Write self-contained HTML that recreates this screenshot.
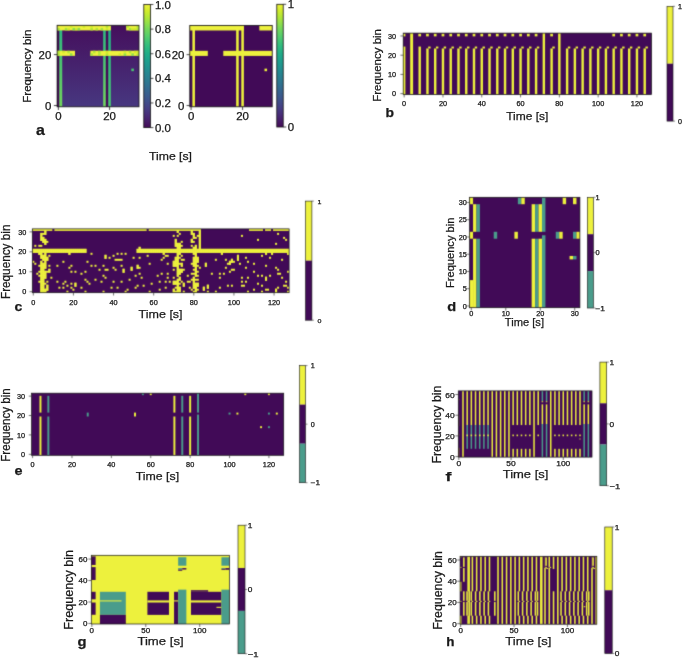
<!DOCTYPE html>
<html><head><meta charset="utf-8"><style>
html,body{margin:0;padding:0;background:#fff;}
svg{display:block;will-change:transform;}
text{font-family:"Liberation Sans",sans-serif;fill:#1a1a1a;stroke:#1a1a1a;stroke-width:0.25px;}
</style></head><body>
<svg width="685" height="658" viewBox="0 0 685 658">
<defs><filter id="bl" x="0" y="0" width="685" height="658" filterUnits="userSpaceOnUse" color-interpolation-filters="sRGB"><feConvolveMatrix order="3" kernelMatrix="0.0192 0.1001 0.0192 0.1001 0.5228 0.1001 0.0192 0.1001 0.0192" divisor="1" edgeMode="duplicate" preserveAlpha="true"/></filter></defs>
<rect width="685" height="658" fill="#fff"/>
<g filter="url(#bl)">
<rect width="685" height="658" fill="#fff"/>
<defs><linearGradient id="gr1" x1="0" y1="0" x2="0" y2="1"><stop offset="0" stop-color="#450f5c"/><stop offset="1" stop-color="#473780"/></linearGradient></defs>
<rect x="57.1" y="25.3" width="81.9" height="81.5" fill="url(#gr1)"/>
<rect x="57.1" y="25.3" width="2.56" height="81.5" fill="#440a57"/>
<rect x="105.73" y="25.3" width="2.56" height="81.5" fill="#440a57"/>
<defs><linearGradient id="gr2" x1="0" y1="0" x2="0" y2="1"><stop offset="0" stop-color="#29b783"/><stop offset="1" stop-color="#73d75b"/></linearGradient></defs>
<rect x="59.26" y="25.3" width="2.96" height="81.5" fill="url(#gr2)"/>
<defs><linearGradient id="gr3" x1="0" y1="0" x2="0" y2="1"><stop offset="0" stop-color="#29b783"/><stop offset="1" stop-color="#73d75b"/></linearGradient></defs>
<rect x="103.17" y="25.3" width="2.56" height="81.5" fill="url(#gr3)"/>
<defs><linearGradient id="gr4" x1="0" y1="0" x2="0" y2="1"><stop offset="0" stop-color="#20ad88"/><stop offset="1" stop-color="#4ac871"/></linearGradient></defs>
<rect x="108.29" y="25.3" width="2.56" height="81.5" fill="url(#gr4)"/>
<rect x="57.1" y="25.3" width="53.75" height="5.09" fill="#edf13d"/>
<rect x="57.1" y="27.85" width="2.56" height="2.55" fill="#a5e53e"/>
<rect x="64.78" y="27.85" width="2.56" height="2.55" fill="#a5e53e"/>
<rect x="67.34" y="27.85" width="2.56" height="2.55" fill="#d2ec2c"/>
<rect x="69.9" y="25.3" width="2.56" height="2.55" fill="#d2ec2c"/>
<rect x="72.46" y="27.85" width="2.56" height="2.55" fill="#8cde4c"/>
<rect x="75.02" y="27.85" width="2.56" height="2.55" fill="#d2ec2c"/>
<rect x="77.58" y="27.85" width="2.56" height="2.55" fill="#8cde4c"/>
<rect x="82.69" y="25.3" width="2.56" height="2.55" fill="#d2ec2c"/>
<rect x="90.37" y="27.85" width="2.56" height="2.55" fill="#b3e736"/>
<rect x="90.37" y="25.3" width="2.56" height="2.55" fill="#d2ec2c"/>
<rect x="95.49" y="27.85" width="2.56" height="2.55" fill="#b3e736"/>
<rect x="100.61" y="27.85" width="2.56" height="2.55" fill="#a5e53e"/>
<rect x="105.73" y="27.85" width="2.56" height="2.55" fill="#d2ec2c"/>
<rect x="105.73" y="25.3" width="2.56" height="2.55" fill="#b3e736"/>
<rect x="126.2" y="25.3" width="12.8" height="5.09" fill="#edf13d"/>
<rect x="126.2" y="25.3" width="2.56" height="2.55" fill="#b3e736"/>
<rect x="128.76" y="27.85" width="2.56" height="2.55" fill="#a5e53e"/>
<rect x="131.32" y="27.85" width="2.56" height="2.55" fill="#d2ec2c"/>
<rect x="133.88" y="27.85" width="2.56" height="2.55" fill="#d2ec2c"/>
<rect x="136.44" y="27.85" width="2.56" height="2.55" fill="#b3e736"/>
<rect x="136.44" y="25.3" width="2.56" height="2.55" fill="#b3e736"/>
<rect x="57.1" y="50.77" width="17.92" height="5.09" fill="#edf13d"/>
<rect x="57.1" y="53.32" width="2.56" height="2.55" fill="#a5e53e"/>
<rect x="57.1" y="50.77" width="2.56" height="2.55" fill="#b3e736"/>
<rect x="62.22" y="50.77" width="2.56" height="2.55" fill="#d2ec2c"/>
<rect x="67.34" y="50.77" width="2.56" height="2.55" fill="#b3e736"/>
<rect x="69.9" y="53.32" width="2.56" height="2.55" fill="#8cde4c"/>
<rect x="90.37" y="50.77" width="48.63" height="5.09" fill="#edf13d"/>
<rect x="90.37" y="53.32" width="2.56" height="2.55" fill="#a5e53e"/>
<rect x="92.93" y="50.77" width="2.56" height="2.55" fill="#b3e736"/>
<rect x="98.05" y="53.32" width="2.56" height="2.55" fill="#b3e736"/>
<rect x="98.05" y="50.77" width="2.56" height="2.55" fill="#b3e736"/>
<rect x="105.73" y="53.32" width="2.56" height="2.55" fill="#b3e736"/>
<rect x="105.73" y="50.77" width="2.56" height="2.55" fill="#d2ec2c"/>
<rect x="118.53" y="53.32" width="2.56" height="2.55" fill="#d2ec2c"/>
<rect x="123.64" y="53.32" width="2.56" height="2.55" fill="#8cde4c"/>
<rect x="123.64" y="50.77" width="2.56" height="2.55" fill="#d2ec2c"/>
<rect x="128.76" y="50.77" width="2.56" height="2.55" fill="#b3e736"/>
<rect x="131.32" y="53.32" width="2.56" height="2.55" fill="#8cde4c"/>
<rect x="133.88" y="50.77" width="2.56" height="2.55" fill="#d2ec2c"/>
<rect x="136.44" y="53.32" width="2.56" height="2.55" fill="#b3e736"/>
<rect x="136.44" y="50.77" width="2.56" height="2.55" fill="#d2ec2c"/>
<rect x="131.32" y="68.6" width="2.56" height="2.55" fill="#4ac871"/>
<rect x="57.1" y="25.3" width="81.9" height="81.5" fill="none" stroke="#111" stroke-width="0.8"/>
<line x1="58.38" y1="106.8" x2="58.38" y2="110" stroke="#1a1a1a" stroke-width="0.8"/>
<line x1="109.57" y1="106.8" x2="109.57" y2="110" stroke="#1a1a1a" stroke-width="0.8"/>
<line x1="53.9" y1="105.53" x2="57.1" y2="105.53" stroke="#1a1a1a" stroke-width="0.8"/>
<line x1="53.9" y1="54.59" x2="57.1" y2="54.59" stroke="#1a1a1a" stroke-width="0.8"/>
<defs><linearGradient id="g59" x1="0" y1="0" x2="0" y2="1"><stop offset="0" stop-color="#edf23d"/><stop offset="0.05" stop-color="#d2ec2c"/><stop offset="0.1" stop-color="#b3e736"/><stop offset="0.15" stop-color="#93e049"/><stop offset="0.2" stop-color="#73d75b"/><stop offset="0.25" stop-color="#59cf6a"/><stop offset="0.3" stop-color="#40c477"/><stop offset="0.35" stop-color="#2cb981"/><stop offset="0.4" stop-color="#20ad88"/><stop offset="0.45" stop-color="#1da18d"/><stop offset="0.5" stop-color="#20968f"/><stop offset="0.55" stop-color="#248991"/><stop offset="0.6" stop-color="#2a7e90"/><stop offset="0.65" stop-color="#2f7290"/><stop offset="0.7" stop-color="#35658f"/><stop offset="0.75" stop-color="#3b598d"/><stop offset="0.8" stop-color="#414b89"/><stop offset="0.85" stop-color="#463c83"/><stop offset="0.9" stop-color="#482c78"/><stop offset="0.95" stop-color="#471c68"/><stop offset="1" stop-color="#440a57"/></linearGradient></defs>
<rect x="143.8" y="4.5" width="6.6" height="123.1" fill="url(#g59)"/>
<rect x="143.8" y="4.5" width="6.6" height="123.1" fill="none" stroke="#111" stroke-width="0.8"/>
<line x1="150.4" y1="4.5" x2="153.4" y2="4.5" stroke="#1a1a1a" stroke-width="0.8"/>
<line x1="150.4" y1="29.12" x2="153.4" y2="29.12" stroke="#1a1a1a" stroke-width="0.8"/>
<line x1="150.4" y1="53.74" x2="153.4" y2="53.74" stroke="#1a1a1a" stroke-width="0.8"/>
<line x1="150.4" y1="78.36" x2="153.4" y2="78.36" stroke="#1a1a1a" stroke-width="0.8"/>
<line x1="150.4" y1="102.98" x2="153.4" y2="102.98" stroke="#1a1a1a" stroke-width="0.8"/>
<line x1="150.4" y1="127.6" x2="153.4" y2="127.6" stroke="#1a1a1a" stroke-width="0.8"/>
<rect x="189.8" y="25.4" width="82.4" height="81.4" fill="#410a57"/>
<rect x="189.8" y="25.4" width="54.07" height="5.09" fill="#edf13d"/>
<rect x="259.32" y="25.4" width="12.87" height="5.09" fill="#edf13d"/>
<rect x="189.8" y="50.84" width="18.02" height="5.09" fill="#edf13d"/>
<rect x="223.28" y="50.84" width="48.92" height="5.09" fill="#edf13d"/>
<rect x="192.38" y="25.4" width="2.57" height="81.4" fill="#edf13d"/>
<rect x="236.15" y="25.4" width="2.57" height="81.4" fill="#edf13d"/>
<rect x="241.3" y="25.4" width="2.57" height="81.4" fill="#edf13d"/>
<rect x="264.48" y="68.64" width="2.57" height="2.54" fill="#edf13d"/>
<rect x="189.8" y="25.4" width="82.4" height="81.4" fill="none" stroke="#111" stroke-width="0.8"/>
<line x1="191.09" y1="106.8" x2="191.09" y2="110" stroke="#1a1a1a" stroke-width="0.8"/>
<line x1="242.59" y1="106.8" x2="242.59" y2="110" stroke="#1a1a1a" stroke-width="0.8"/>
<line x1="186.6" y1="105.53" x2="189.8" y2="105.53" stroke="#1a1a1a" stroke-width="0.8"/>
<line x1="186.6" y1="54.65" x2="189.8" y2="54.65" stroke="#1a1a1a" stroke-width="0.8"/>
<defs><linearGradient id="g82" x1="0" y1="0" x2="0" y2="1"><stop offset="0" stop-color="#edf23d"/><stop offset="0.05" stop-color="#d2ec2c"/><stop offset="0.1" stop-color="#b3e736"/><stop offset="0.15" stop-color="#93e049"/><stop offset="0.2" stop-color="#73d75b"/><stop offset="0.25" stop-color="#59cf6a"/><stop offset="0.3" stop-color="#40c477"/><stop offset="0.35" stop-color="#2cb981"/><stop offset="0.4" stop-color="#20ad88"/><stop offset="0.45" stop-color="#1da18d"/><stop offset="0.5" stop-color="#20968f"/><stop offset="0.55" stop-color="#248991"/><stop offset="0.6" stop-color="#2a7e90"/><stop offset="0.65" stop-color="#2f7290"/><stop offset="0.7" stop-color="#35658f"/><stop offset="0.75" stop-color="#3b598d"/><stop offset="0.8" stop-color="#414b89"/><stop offset="0.85" stop-color="#463c83"/><stop offset="0.9" stop-color="#482c78"/><stop offset="0.95" stop-color="#471c68"/><stop offset="1" stop-color="#440a57"/></linearGradient></defs>
<rect x="276.8" y="4.3" width="6.4" height="122.7" fill="url(#g82)"/>
<rect x="276.8" y="4.3" width="6.4" height="122.7" fill="none" stroke="#111" stroke-width="0.8"/>
<line x1="283.2" y1="4.3" x2="286.2" y2="4.3" stroke="#1a1a1a" stroke-width="0.8"/>
<line x1="283.2" y1="127" x2="286.2" y2="127" stroke="#1a1a1a" stroke-width="0.8"/>
<rect x="403.2" y="33.1" width="248.3" height="61.5" fill="#410a57"/>
<rect x="402.97" y="46.55" width="2.41" height="48.05" fill="#edf13d"/>
<rect x="403.2" y="33.68" width="2.17" height="2.69" fill="#edf13d"/>
<rect x="410.18" y="33.1" width="2.91" height="61.5" fill="#edf13d"/>
<rect x="418.49" y="46.55" width="2.41" height="48.05" fill="#edf13d"/>
<rect x="418.33" y="33.68" width="2.72" height="2.69" fill="#edf13d"/>
<rect x="426.25" y="48.48" width="2.41" height="46.12" fill="#edf13d"/>
<rect x="428.19" y="46.55" width="2.41" height="1.92" fill="#edf13d"/>
<rect x="426.09" y="33.68" width="2.72" height="2.69" fill="#edf13d"/>
<rect x="434" y="48.48" width="2.41" height="46.12" fill="#edf13d"/>
<rect x="435.94" y="46.55" width="2.41" height="1.92" fill="#edf13d"/>
<rect x="433.85" y="33.68" width="2.72" height="2.69" fill="#edf13d"/>
<rect x="441.76" y="48.48" width="2.41" height="46.12" fill="#edf13d"/>
<rect x="443.7" y="46.55" width="2.41" height="1.92" fill="#edf13d"/>
<rect x="441.61" y="33.68" width="2.72" height="2.69" fill="#edf13d"/>
<rect x="449.52" y="48.48" width="2.41" height="46.12" fill="#edf13d"/>
<rect x="451.46" y="46.55" width="2.41" height="1.92" fill="#edf13d"/>
<rect x="449.37" y="33.68" width="2.72" height="2.69" fill="#edf13d"/>
<rect x="457.28" y="48.48" width="2.41" height="46.12" fill="#edf13d"/>
<rect x="459.22" y="46.55" width="2.41" height="1.92" fill="#edf13d"/>
<rect x="457.13" y="33.68" width="2.72" height="2.69" fill="#edf13d"/>
<rect x="465.04" y="48.48" width="2.41" height="46.12" fill="#edf13d"/>
<rect x="466.98" y="46.55" width="2.41" height="1.92" fill="#edf13d"/>
<rect x="464.89" y="33.68" width="2.72" height="2.69" fill="#edf13d"/>
<rect x="472.8" y="48.48" width="2.41" height="46.12" fill="#edf13d"/>
<rect x="474.74" y="46.55" width="2.41" height="1.92" fill="#edf13d"/>
<rect x="472.65" y="33.68" width="2.72" height="2.69" fill="#edf13d"/>
<rect x="480.56" y="48.48" width="2.41" height="46.12" fill="#edf13d"/>
<rect x="482.5" y="46.55" width="2.41" height="1.92" fill="#edf13d"/>
<rect x="480.41" y="33.68" width="2.72" height="2.69" fill="#edf13d"/>
<rect x="488.32" y="48.48" width="2.41" height="46.12" fill="#edf13d"/>
<rect x="490.26" y="46.55" width="2.41" height="1.92" fill="#edf13d"/>
<rect x="488.17" y="33.68" width="2.72" height="2.69" fill="#edf13d"/>
<rect x="496.08" y="48.48" width="2.41" height="46.12" fill="#edf13d"/>
<rect x="498.02" y="46.55" width="2.41" height="1.92" fill="#edf13d"/>
<rect x="495.92" y="33.68" width="2.72" height="2.69" fill="#edf13d"/>
<rect x="503.84" y="48.48" width="2.41" height="46.12" fill="#edf13d"/>
<rect x="505.78" y="46.55" width="2.41" height="1.92" fill="#edf13d"/>
<rect x="503.68" y="33.68" width="2.72" height="2.69" fill="#edf13d"/>
<rect x="511.6" y="48.48" width="2.41" height="46.12" fill="#edf13d"/>
<rect x="513.54" y="46.55" width="2.41" height="1.92" fill="#edf13d"/>
<rect x="511.44" y="33.68" width="2.72" height="2.69" fill="#edf13d"/>
<rect x="519.36" y="48.48" width="2.41" height="46.12" fill="#edf13d"/>
<rect x="521.3" y="46.55" width="2.41" height="1.92" fill="#edf13d"/>
<rect x="519.2" y="33.68" width="2.72" height="2.69" fill="#edf13d"/>
<rect x="527.12" y="48.48" width="2.41" height="46.12" fill="#edf13d"/>
<rect x="529.06" y="46.55" width="2.41" height="1.92" fill="#edf13d"/>
<rect x="526.96" y="33.68" width="2.72" height="2.69" fill="#edf13d"/>
<rect x="534.88" y="48.48" width="2.41" height="46.12" fill="#edf13d"/>
<rect x="536.82" y="46.55" width="2.41" height="1.92" fill="#edf13d"/>
<rect x="534.72" y="33.68" width="2.72" height="2.69" fill="#edf13d"/>
<rect x="542.64" y="33.1" width="2.41" height="61.5" fill="#edf13d"/>
<rect x="550.4" y="48.48" width="2.41" height="46.12" fill="#edf13d"/>
<rect x="552.34" y="46.55" width="2.41" height="1.92" fill="#edf13d"/>
<rect x="550.24" y="33.68" width="2.72" height="2.69" fill="#edf13d"/>
<rect x="558.15" y="33.1" width="2.41" height="61.5" fill="#edf13d"/>
<rect x="565.91" y="48.48" width="2.41" height="46.12" fill="#edf13d"/>
<rect x="567.85" y="46.55" width="2.41" height="1.92" fill="#edf13d"/>
<rect x="573.67" y="48.48" width="2.41" height="46.12" fill="#edf13d"/>
<rect x="575.61" y="46.55" width="2.41" height="1.92" fill="#edf13d"/>
<rect x="581.43" y="48.48" width="2.41" height="46.12" fill="#edf13d"/>
<rect x="583.37" y="46.55" width="2.41" height="1.92" fill="#edf13d"/>
<rect x="589.19" y="48.48" width="2.41" height="46.12" fill="#edf13d"/>
<rect x="591.13" y="46.55" width="2.41" height="1.92" fill="#edf13d"/>
<rect x="596.95" y="48.48" width="2.41" height="46.12" fill="#edf13d"/>
<rect x="598.89" y="46.55" width="2.41" height="1.92" fill="#edf13d"/>
<rect x="604.71" y="48.48" width="2.41" height="46.12" fill="#edf13d"/>
<rect x="606.65" y="46.55" width="2.41" height="1.92" fill="#edf13d"/>
<rect x="612.47" y="48.48" width="2.41" height="46.12" fill="#edf13d"/>
<rect x="614.41" y="46.55" width="2.41" height="1.92" fill="#edf13d"/>
<rect x="612.32" y="33.68" width="2.72" height="2.69" fill="#edf13d"/>
<rect x="620.23" y="48.48" width="2.41" height="46.12" fill="#edf13d"/>
<rect x="622.17" y="46.55" width="2.41" height="1.92" fill="#edf13d"/>
<rect x="620.07" y="33.68" width="2.72" height="2.69" fill="#edf13d"/>
<rect x="627.99" y="48.48" width="2.41" height="46.12" fill="#edf13d"/>
<rect x="629.93" y="46.55" width="2.41" height="1.92" fill="#edf13d"/>
<rect x="627.83" y="33.68" width="2.72" height="2.69" fill="#edf13d"/>
<rect x="635.75" y="48.48" width="2.41" height="46.12" fill="#edf13d"/>
<rect x="637.69" y="46.55" width="2.41" height="1.92" fill="#edf13d"/>
<rect x="635.59" y="33.68" width="2.72" height="2.69" fill="#edf13d"/>
<rect x="643.51" y="48.48" width="2.41" height="46.12" fill="#edf13d"/>
<rect x="645.45" y="46.55" width="2.41" height="1.92" fill="#edf13d"/>
<rect x="643.35" y="33.68" width="2.72" height="2.69" fill="#edf13d"/>
<rect x="403.2" y="33.1" width="248.3" height="61.5" fill="none" stroke="#111" stroke-width="0.7"/>
<line x1="404.17" y1="94.6" x2="404.17" y2="97.4" stroke="#333" stroke-width="0.7"/>
<line x1="442.97" y1="94.6" x2="442.97" y2="97.4" stroke="#333" stroke-width="0.7"/>
<line x1="481.76" y1="94.6" x2="481.76" y2="97.4" stroke="#333" stroke-width="0.7"/>
<line x1="520.56" y1="94.6" x2="520.56" y2="97.4" stroke="#333" stroke-width="0.7"/>
<line x1="559.36" y1="94.6" x2="559.36" y2="97.4" stroke="#333" stroke-width="0.7"/>
<line x1="598.15" y1="94.6" x2="598.15" y2="97.4" stroke="#333" stroke-width="0.7"/>
<line x1="636.95" y1="94.6" x2="636.95" y2="97.4" stroke="#333" stroke-width="0.7"/>
<line x1="400.4" y1="93.64" x2="403.2" y2="93.64" stroke="#333" stroke-width="0.7"/>
<line x1="400.4" y1="74.42" x2="403.2" y2="74.42" stroke="#333" stroke-width="0.7"/>
<line x1="400.4" y1="55.2" x2="403.2" y2="55.2" stroke="#333" stroke-width="0.7"/>
<line x1="400.4" y1="35.98" x2="403.2" y2="35.98" stroke="#333" stroke-width="0.7"/>
<rect x="667" y="6.3" width="6" height="57.4" fill="#edf13d"/>
<rect x="667" y="63.7" width="6" height="57.4" fill="#410a57"/>
<rect x="667" y="6.3" width="6" height="114.8" fill="none" stroke="#111" stroke-width="0.6"/>
<line x1="673" y1="6.3" x2="675" y2="6.3" stroke="#333" stroke-width="0.6"/>
<line x1="673" y1="121.1" x2="675" y2="121.1" stroke="#333" stroke-width="0.6"/>
<rect x="32.3" y="228.9" width="256.8" height="63.8" fill="#410a57"/>
<rect x="40.32" y="290.71" width="6.02" height="1.99" fill="#edf13d"/>
<rect x="66.41" y="290.71" width="2.01" height="1.99" fill="#edf13d"/>
<rect x="84.46" y="290.71" width="2.01" height="1.99" fill="#edf13d"/>
<rect x="102.52" y="290.71" width="2.01" height="1.99" fill="#edf13d"/>
<rect x="124.59" y="290.71" width="2.01" height="1.99" fill="#edf13d"/>
<rect x="148.66" y="290.71" width="2.01" height="1.99" fill="#edf13d"/>
<rect x="172.74" y="290.71" width="8.03" height="1.99" fill="#edf13d"/>
<rect x="182.77" y="290.71" width="2.01" height="1.99" fill="#edf13d"/>
<rect x="192.8" y="290.71" width="4.01" height="1.99" fill="#edf13d"/>
<rect x="206.84" y="290.71" width="2.01" height="1.99" fill="#edf13d"/>
<rect x="214.87" y="290.71" width="2.01" height="1.99" fill="#edf13d"/>
<rect x="246.97" y="290.71" width="2.01" height="1.99" fill="#edf13d"/>
<rect x="261.01" y="290.71" width="2.01" height="1.99" fill="#edf13d"/>
<rect x="275.06" y="290.71" width="2.01" height="1.99" fill="#edf13d"/>
<rect x="287.09" y="290.71" width="2.01" height="1.99" fill="#edf13d"/>
<rect x="40.32" y="288.71" width="8.03" height="1.99" fill="#edf13d"/>
<rect x="72.42" y="288.71" width="2.01" height="1.99" fill="#edf13d"/>
<rect x="126.59" y="288.71" width="2.01" height="1.99" fill="#edf13d"/>
<rect x="158.69" y="288.71" width="2.01" height="1.99" fill="#edf13d"/>
<rect x="172.74" y="288.71" width="2.01" height="1.99" fill="#edf13d"/>
<rect x="176.75" y="288.71" width="4.01" height="1.99" fill="#edf13d"/>
<rect x="190.79" y="288.71" width="2.01" height="1.99" fill="#edf13d"/>
<rect x="194.81" y="288.71" width="4.01" height="1.99" fill="#edf13d"/>
<rect x="202.83" y="288.71" width="2.01" height="1.99" fill="#edf13d"/>
<rect x="252.99" y="288.71" width="2.01" height="1.99" fill="#edf13d"/>
<rect x="265.03" y="288.71" width="4.01" height="1.99" fill="#edf13d"/>
<rect x="275.06" y="288.71" width="2.01" height="1.99" fill="#edf13d"/>
<rect x="40.32" y="286.72" width="4.01" height="1.99" fill="#edf13d"/>
<rect x="46.34" y="286.72" width="2.01" height="1.99" fill="#edf13d"/>
<rect x="58.38" y="286.72" width="2.01" height="1.99" fill="#edf13d"/>
<rect x="62.39" y="286.72" width="2.01" height="1.99" fill="#edf13d"/>
<rect x="70.42" y="286.72" width="2.01" height="1.99" fill="#edf13d"/>
<rect x="80.45" y="286.72" width="2.01" height="1.99" fill="#edf13d"/>
<rect x="110.54" y="286.72" width="2.01" height="1.99" fill="#edf13d"/>
<rect x="116.56" y="286.72" width="2.01" height="1.99" fill="#edf13d"/>
<rect x="134.62" y="286.72" width="2.01" height="1.99" fill="#edf13d"/>
<rect x="164.71" y="286.72" width="2.01" height="1.99" fill="#edf13d"/>
<rect x="174.74" y="286.72" width="6.02" height="1.99" fill="#edf13d"/>
<rect x="188.79" y="286.72" width="2.01" height="1.99" fill="#edf13d"/>
<rect x="192.8" y="286.72" width="4.01" height="1.99" fill="#edf13d"/>
<rect x="202.83" y="286.72" width="2.01" height="1.99" fill="#edf13d"/>
<rect x="206.84" y="286.72" width="2.01" height="1.99" fill="#edf13d"/>
<rect x="218.88" y="286.72" width="2.01" height="1.99" fill="#edf13d"/>
<rect x="277.06" y="286.72" width="2.01" height="1.99" fill="#edf13d"/>
<rect x="287.09" y="286.72" width="2.01" height="1.99" fill="#edf13d"/>
<rect x="40.32" y="284.72" width="4.01" height="1.99" fill="#edf13d"/>
<rect x="46.34" y="284.72" width="2.01" height="1.99" fill="#edf13d"/>
<rect x="66.41" y="284.72" width="2.01" height="1.99" fill="#edf13d"/>
<rect x="74.43" y="284.72" width="2.01" height="1.99" fill="#edf13d"/>
<rect x="136.62" y="284.72" width="2.01" height="1.99" fill="#edf13d"/>
<rect x="142.64" y="284.72" width="2.01" height="1.99" fill="#edf13d"/>
<rect x="176.75" y="284.72" width="2.01" height="1.99" fill="#edf13d"/>
<rect x="182.77" y="284.72" width="2.01" height="1.99" fill="#edf13d"/>
<rect x="192.8" y="284.72" width="6.02" height="1.99" fill="#edf13d"/>
<rect x="206.84" y="284.72" width="2.01" height="1.99" fill="#edf13d"/>
<rect x="226.91" y="284.72" width="2.01" height="1.99" fill="#edf13d"/>
<rect x="230.92" y="284.72" width="2.01" height="1.99" fill="#edf13d"/>
<rect x="240.95" y="284.72" width="4.01" height="1.99" fill="#edf13d"/>
<rect x="261.01" y="284.72" width="2.01" height="1.99" fill="#edf13d"/>
<rect x="283.08" y="284.72" width="4.01" height="1.99" fill="#edf13d"/>
<rect x="40.32" y="282.73" width="6.02" height="1.99" fill="#edf13d"/>
<rect x="62.39" y="282.73" width="2.01" height="1.99" fill="#edf13d"/>
<rect x="70.42" y="282.73" width="2.01" height="1.99" fill="#edf13d"/>
<rect x="74.43" y="282.73" width="2.01" height="1.99" fill="#edf13d"/>
<rect x="88.47" y="282.73" width="2.01" height="1.99" fill="#edf13d"/>
<rect x="150.67" y="282.73" width="2.01" height="1.99" fill="#edf13d"/>
<rect x="172.74" y="282.73" width="8.03" height="1.99" fill="#edf13d"/>
<rect x="182.77" y="282.73" width="2.01" height="1.99" fill="#edf13d"/>
<rect x="192.8" y="282.73" width="6.02" height="1.99" fill="#edf13d"/>
<rect x="257" y="282.73" width="2.01" height="1.99" fill="#edf13d"/>
<rect x="38.32" y="280.74" width="6.02" height="1.99" fill="#edf13d"/>
<rect x="46.34" y="280.74" width="2.01" height="1.99" fill="#edf13d"/>
<rect x="56.38" y="280.74" width="2.01" height="1.99" fill="#edf13d"/>
<rect x="64.4" y="280.74" width="2.01" height="1.99" fill="#edf13d"/>
<rect x="86.47" y="280.74" width="2.01" height="1.99" fill="#edf13d"/>
<rect x="100.51" y="280.74" width="2.01" height="1.99" fill="#edf13d"/>
<rect x="112.55" y="280.74" width="2.01" height="1.99" fill="#edf13d"/>
<rect x="120.58" y="280.74" width="2.01" height="1.99" fill="#edf13d"/>
<rect x="158.69" y="280.74" width="2.01" height="1.99" fill="#edf13d"/>
<rect x="164.71" y="280.74" width="2.01" height="1.99" fill="#edf13d"/>
<rect x="168.73" y="280.74" width="2.01" height="1.99" fill="#edf13d"/>
<rect x="172.74" y="280.74" width="6.02" height="1.99" fill="#edf13d"/>
<rect x="180.76" y="280.74" width="2.01" height="1.99" fill="#edf13d"/>
<rect x="186.78" y="280.74" width="4.01" height="1.99" fill="#edf13d"/>
<rect x="192.8" y="280.74" width="2.01" height="1.99" fill="#edf13d"/>
<rect x="240.95" y="280.74" width="2.01" height="1.99" fill="#edf13d"/>
<rect x="244.96" y="280.74" width="2.01" height="1.99" fill="#edf13d"/>
<rect x="285.09" y="280.74" width="2.01" height="1.99" fill="#edf13d"/>
<rect x="40.32" y="278.74" width="4.01" height="1.99" fill="#edf13d"/>
<rect x="84.46" y="278.74" width="2.01" height="1.99" fill="#edf13d"/>
<rect x="94.49" y="278.74" width="2.01" height="1.99" fill="#edf13d"/>
<rect x="128.6" y="278.74" width="2.01" height="1.99" fill="#edf13d"/>
<rect x="176.75" y="278.74" width="4.01" height="1.99" fill="#edf13d"/>
<rect x="190.79" y="278.74" width="8.03" height="1.99" fill="#edf13d"/>
<rect x="265.03" y="278.74" width="2.01" height="1.99" fill="#edf13d"/>
<rect x="40.32" y="276.75" width="6.02" height="1.99" fill="#edf13d"/>
<rect x="50.36" y="276.75" width="2.01" height="1.99" fill="#edf13d"/>
<rect x="104.53" y="276.75" width="2.01" height="1.99" fill="#edf13d"/>
<rect x="140.64" y="276.75" width="2.01" height="1.99" fill="#edf13d"/>
<rect x="166.72" y="276.75" width="2.01" height="1.99" fill="#edf13d"/>
<rect x="172.74" y="276.75" width="2.01" height="1.99" fill="#edf13d"/>
<rect x="178.76" y="276.75" width="2.01" height="1.99" fill="#edf13d"/>
<rect x="192.8" y="276.75" width="2.01" height="1.99" fill="#edf13d"/>
<rect x="218.88" y="276.75" width="2.01" height="1.99" fill="#edf13d"/>
<rect x="240.95" y="276.75" width="2.01" height="1.99" fill="#edf13d"/>
<rect x="246.97" y="276.75" width="2.01" height="1.99" fill="#edf13d"/>
<rect x="265.03" y="276.75" width="2.01" height="1.99" fill="#edf13d"/>
<rect x="281.07" y="276.75" width="2.01" height="1.99" fill="#edf13d"/>
<rect x="38.32" y="274.76" width="8.03" height="1.99" fill="#edf13d"/>
<rect x="102.52" y="274.76" width="2.01" height="1.99" fill="#edf13d"/>
<rect x="134.62" y="274.76" width="2.01" height="1.99" fill="#edf13d"/>
<rect x="156.69" y="274.76" width="2.01" height="1.99" fill="#edf13d"/>
<rect x="176.75" y="274.76" width="2.01" height="1.99" fill="#edf13d"/>
<rect x="186.78" y="274.76" width="2.01" height="1.99" fill="#edf13d"/>
<rect x="194.81" y="274.76" width="4.01" height="1.99" fill="#edf13d"/>
<rect x="257" y="274.76" width="2.01" height="1.99" fill="#edf13d"/>
<rect x="261.01" y="274.76" width="2.01" height="1.99" fill="#edf13d"/>
<rect x="269.04" y="274.76" width="2.01" height="1.99" fill="#edf13d"/>
<rect x="36.31" y="272.76" width="2.01" height="1.99" fill="#edf13d"/>
<rect x="40.32" y="272.76" width="6.02" height="1.99" fill="#edf13d"/>
<rect x="80.45" y="272.76" width="2.01" height="1.99" fill="#edf13d"/>
<rect x="138.63" y="272.76" width="2.01" height="1.99" fill="#edf13d"/>
<rect x="160.7" y="272.76" width="2.01" height="1.99" fill="#edf13d"/>
<rect x="166.72" y="272.76" width="2.01" height="1.99" fill="#edf13d"/>
<rect x="176.75" y="272.76" width="4.01" height="1.99" fill="#edf13d"/>
<rect x="190.79" y="272.76" width="6.02" height="1.99" fill="#edf13d"/>
<rect x="210.86" y="272.76" width="2.01" height="1.99" fill="#edf13d"/>
<rect x="218.88" y="272.76" width="2.01" height="1.99" fill="#edf13d"/>
<rect x="222.89" y="272.76" width="2.01" height="1.99" fill="#edf13d"/>
<rect x="277.06" y="272.76" width="4.01" height="1.99" fill="#edf13d"/>
<rect x="38.32" y="270.77" width="12.04" height="1.99" fill="#edf13d"/>
<rect x="70.42" y="270.77" width="2.01" height="1.99" fill="#edf13d"/>
<rect x="74.43" y="270.77" width="2.01" height="1.99" fill="#edf13d"/>
<rect x="84.46" y="270.77" width="2.01" height="1.99" fill="#edf13d"/>
<rect x="122.58" y="270.77" width="2.01" height="1.99" fill="#edf13d"/>
<rect x="176.75" y="270.77" width="6.02" height="1.99" fill="#edf13d"/>
<rect x="194.81" y="270.77" width="4.01" height="1.99" fill="#edf13d"/>
<rect x="228.91" y="270.77" width="2.01" height="1.99" fill="#edf13d"/>
<rect x="252.99" y="270.77" width="2.01" height="1.99" fill="#edf13d"/>
<rect x="287.09" y="270.77" width="2.01" height="1.99" fill="#edf13d"/>
<rect x="40.32" y="268.77" width="4.01" height="1.99" fill="#edf13d"/>
<rect x="48.35" y="268.77" width="2.01" height="1.99" fill="#edf13d"/>
<rect x="98.51" y="268.77" width="2.01" height="1.99" fill="#edf13d"/>
<rect x="104.53" y="268.77" width="4.01" height="1.99" fill="#edf13d"/>
<rect x="114.56" y="268.77" width="2.01" height="1.99" fill="#edf13d"/>
<rect x="122.58" y="268.77" width="2.01" height="1.99" fill="#edf13d"/>
<rect x="130.61" y="268.77" width="2.01" height="1.99" fill="#edf13d"/>
<rect x="172.74" y="268.77" width="2.01" height="1.99" fill="#edf13d"/>
<rect x="176.75" y="268.77" width="8.03" height="1.99" fill="#edf13d"/>
<rect x="192.8" y="268.77" width="4.01" height="1.99" fill="#edf13d"/>
<rect x="230.92" y="268.77" width="4.01" height="1.99" fill="#edf13d"/>
<rect x="277.06" y="268.77" width="2.01" height="1.99" fill="#edf13d"/>
<rect x="40.32" y="266.78" width="6.02" height="1.99" fill="#edf13d"/>
<rect x="68.41" y="266.78" width="2.01" height="1.99" fill="#edf13d"/>
<rect x="112.55" y="266.78" width="2.01" height="1.99" fill="#edf13d"/>
<rect x="130.61" y="266.78" width="2.01" height="1.99" fill="#edf13d"/>
<rect x="136.62" y="266.78" width="4.01" height="1.99" fill="#edf13d"/>
<rect x="176.75" y="266.78" width="2.01" height="1.99" fill="#edf13d"/>
<rect x="194.81" y="266.78" width="2.01" height="1.99" fill="#edf13d"/>
<rect x="198.82" y="266.78" width="2.01" height="1.99" fill="#edf13d"/>
<rect x="224.9" y="266.78" width="2.01" height="1.99" fill="#edf13d"/>
<rect x="244.96" y="266.78" width="2.01" height="1.99" fill="#edf13d"/>
<rect x="275.06" y="266.78" width="2.01" height="1.99" fill="#edf13d"/>
<rect x="38.32" y="264.79" width="8.03" height="1.99" fill="#edf13d"/>
<rect x="48.35" y="264.79" width="2.01" height="1.99" fill="#edf13d"/>
<rect x="56.38" y="264.79" width="2.01" height="1.99" fill="#edf13d"/>
<rect x="70.42" y="264.79" width="2.01" height="1.99" fill="#edf13d"/>
<rect x="90.48" y="264.79" width="2.01" height="1.99" fill="#edf13d"/>
<rect x="94.49" y="264.79" width="2.01" height="1.99" fill="#edf13d"/>
<rect x="102.52" y="264.79" width="2.01" height="1.99" fill="#edf13d"/>
<rect x="120.58" y="264.79" width="2.01" height="1.99" fill="#edf13d"/>
<rect x="136.62" y="264.79" width="2.01" height="1.99" fill="#edf13d"/>
<rect x="172.74" y="264.79" width="6.02" height="1.99" fill="#edf13d"/>
<rect x="180.76" y="264.79" width="2.01" height="1.99" fill="#edf13d"/>
<rect x="192.8" y="264.79" width="6.02" height="1.99" fill="#edf13d"/>
<rect x="204.84" y="264.79" width="2.01" height="1.99" fill="#edf13d"/>
<rect x="265.03" y="264.79" width="2.01" height="1.99" fill="#edf13d"/>
<rect x="34.31" y="262.79" width="2.01" height="1.99" fill="#edf13d"/>
<rect x="40.32" y="262.79" width="6.02" height="1.99" fill="#edf13d"/>
<rect x="148.66" y="262.79" width="2.01" height="1.99" fill="#edf13d"/>
<rect x="166.72" y="262.79" width="2.01" height="1.99" fill="#edf13d"/>
<rect x="172.74" y="262.79" width="10.03" height="1.99" fill="#edf13d"/>
<rect x="190.79" y="262.79" width="6.02" height="1.99" fill="#edf13d"/>
<rect x="204.84" y="262.79" width="2.01" height="1.99" fill="#edf13d"/>
<rect x="226.91" y="262.79" width="4.01" height="1.99" fill="#edf13d"/>
<rect x="238.94" y="262.79" width="2.01" height="1.99" fill="#edf13d"/>
<rect x="252.99" y="262.79" width="2.01" height="1.99" fill="#edf13d"/>
<rect x="32.3" y="260.8" width="2.01" height="1.99" fill="#edf13d"/>
<rect x="40.32" y="260.8" width="2.01" height="1.99" fill="#edf13d"/>
<rect x="44.34" y="260.8" width="2.01" height="1.99" fill="#edf13d"/>
<rect x="62.39" y="260.8" width="2.01" height="1.99" fill="#edf13d"/>
<rect x="86.47" y="260.8" width="2.01" height="1.99" fill="#edf13d"/>
<rect x="172.74" y="260.8" width="6.02" height="1.99" fill="#edf13d"/>
<rect x="192.8" y="260.8" width="6.02" height="1.99" fill="#edf13d"/>
<rect x="228.91" y="260.8" width="6.02" height="1.99" fill="#edf13d"/>
<rect x="246.97" y="260.8" width="2.01" height="1.99" fill="#edf13d"/>
<rect x="42.33" y="258.81" width="6.02" height="1.99" fill="#edf13d"/>
<rect x="114.56" y="258.81" width="8.03" height="1.99" fill="#edf13d"/>
<rect x="160.7" y="258.81" width="2.01" height="1.99" fill="#edf13d"/>
<rect x="174.74" y="258.81" width="4.01" height="1.99" fill="#edf13d"/>
<rect x="180.76" y="258.81" width="4.01" height="1.99" fill="#edf13d"/>
<rect x="192.8" y="258.81" width="6.02" height="1.99" fill="#edf13d"/>
<rect x="214.87" y="258.81" width="2.01" height="1.99" fill="#edf13d"/>
<rect x="224.9" y="258.81" width="2.01" height="1.99" fill="#edf13d"/>
<rect x="230.92" y="258.81" width="2.01" height="1.99" fill="#edf13d"/>
<rect x="236.94" y="258.81" width="2.01" height="1.99" fill="#edf13d"/>
<rect x="281.07" y="258.81" width="2.01" height="1.99" fill="#edf13d"/>
<rect x="40.32" y="256.81" width="8.03" height="1.99" fill="#edf13d"/>
<rect x="104.53" y="256.81" width="2.01" height="1.99" fill="#edf13d"/>
<rect x="108.54" y="256.81" width="2.01" height="1.99" fill="#edf13d"/>
<rect x="132.61" y="256.81" width="2.01" height="1.99" fill="#edf13d"/>
<rect x="138.63" y="256.81" width="2.01" height="1.99" fill="#edf13d"/>
<rect x="162.71" y="256.81" width="2.01" height="1.99" fill="#edf13d"/>
<rect x="174.74" y="256.81" width="6.02" height="1.99" fill="#edf13d"/>
<rect x="192.8" y="256.81" width="6.02" height="1.99" fill="#edf13d"/>
<rect x="236.94" y="256.81" width="2.01" height="1.99" fill="#edf13d"/>
<rect x="244.96" y="256.81" width="2.01" height="1.99" fill="#edf13d"/>
<rect x="269.04" y="256.81" width="2.01" height="1.99" fill="#edf13d"/>
<rect x="40.32" y="254.82" width="6.02" height="1.99" fill="#edf13d"/>
<rect x="48.35" y="254.82" width="2.01" height="1.99" fill="#edf13d"/>
<rect x="104.53" y="254.82" width="2.01" height="1.99" fill="#edf13d"/>
<rect x="112.55" y="254.82" width="2.01" height="1.99" fill="#edf13d"/>
<rect x="146.66" y="254.82" width="2.01" height="1.99" fill="#edf13d"/>
<rect x="164.71" y="254.82" width="4.01" height="1.99" fill="#edf13d"/>
<rect x="176.75" y="254.82" width="2.01" height="1.99" fill="#edf13d"/>
<rect x="180.76" y="254.82" width="2.01" height="1.99" fill="#edf13d"/>
<rect x="194.81" y="254.82" width="2.01" height="1.99" fill="#edf13d"/>
<rect x="236.94" y="254.82" width="2.01" height="1.99" fill="#edf13d"/>
<rect x="261.01" y="254.82" width="2.01" height="1.99" fill="#edf13d"/>
<rect x="38.32" y="252.82" width="4.01" height="1.99" fill="#edf13d"/>
<rect x="44.34" y="252.82" width="2.01" height="1.99" fill="#edf13d"/>
<rect x="68.41" y="252.82" width="2.01" height="1.99" fill="#edf13d"/>
<rect x="90.48" y="252.82" width="2.01" height="1.99" fill="#edf13d"/>
<rect x="116.56" y="252.82" width="2.01" height="1.99" fill="#edf13d"/>
<rect x="120.58" y="252.82" width="2.01" height="1.99" fill="#edf13d"/>
<rect x="124.59" y="252.82" width="2.01" height="1.99" fill="#edf13d"/>
<rect x="162.71" y="252.82" width="2.01" height="1.99" fill="#edf13d"/>
<rect x="176.75" y="252.82" width="4.01" height="1.99" fill="#edf13d"/>
<rect x="192.8" y="252.82" width="4.01" height="1.99" fill="#edf13d"/>
<rect x="220.89" y="252.82" width="2.01" height="1.99" fill="#edf13d"/>
<rect x="265.03" y="252.82" width="2.01" height="1.99" fill="#edf13d"/>
<rect x="271.04" y="252.82" width="2.01" height="1.99" fill="#edf13d"/>
<rect x="287.09" y="252.82" width="2.01" height="1.99" fill="#edf13d"/>
<rect x="32.3" y="250.83" width="54.17" height="1.99" fill="#edf13d"/>
<rect x="136.62" y="250.83" width="152.47" height="1.99" fill="#edf13d"/>
<rect x="32.3" y="248.84" width="54.17" height="1.99" fill="#edf13d"/>
<rect x="136.62" y="248.84" width="152.47" height="1.99" fill="#edf13d"/>
<rect x="138.63" y="246.84" width="2.01" height="1.99" fill="#edf13d"/>
<rect x="176.75" y="246.84" width="4.01" height="1.99" fill="#edf13d"/>
<rect x="192.8" y="246.84" width="4.01" height="1.99" fill="#edf13d"/>
<rect x="198.82" y="246.84" width="2.01" height="1.99" fill="#edf13d"/>
<rect x="34.31" y="244.85" width="2.01" height="1.99" fill="#edf13d"/>
<rect x="38.32" y="244.85" width="4.01" height="1.99" fill="#edf13d"/>
<rect x="174.74" y="244.85" width="8.03" height="1.99" fill="#edf13d"/>
<rect x="190.79" y="244.85" width="2.01" height="1.99" fill="#edf13d"/>
<rect x="194.81" y="244.85" width="2.01" height="1.99" fill="#edf13d"/>
<rect x="198.82" y="244.85" width="2.01" height="1.99" fill="#edf13d"/>
<rect x="44.34" y="242.86" width="2.01" height="1.99" fill="#edf13d"/>
<rect x="174.74" y="242.86" width="6.02" height="1.99" fill="#edf13d"/>
<rect x="198.82" y="242.86" width="2.01" height="1.99" fill="#edf13d"/>
<rect x="275.06" y="242.86" width="2.01" height="1.99" fill="#edf13d"/>
<rect x="42.33" y="240.86" width="6.02" height="1.99" fill="#edf13d"/>
<rect x="174.74" y="240.86" width="2.01" height="1.99" fill="#edf13d"/>
<rect x="180.76" y="240.86" width="2.01" height="1.99" fill="#edf13d"/>
<rect x="190.79" y="240.86" width="4.01" height="1.99" fill="#edf13d"/>
<rect x="198.82" y="240.86" width="2.01" height="1.99" fill="#edf13d"/>
<rect x="40.32" y="238.87" width="6.02" height="1.99" fill="#edf13d"/>
<rect x="174.74" y="238.87" width="2.01" height="1.99" fill="#edf13d"/>
<rect x="190.79" y="238.87" width="2.01" height="1.99" fill="#edf13d"/>
<rect x="198.82" y="238.87" width="2.01" height="1.99" fill="#edf13d"/>
<rect x="257" y="238.87" width="2.01" height="1.99" fill="#edf13d"/>
<rect x="285.09" y="238.87" width="2.01" height="1.99" fill="#edf13d"/>
<rect x="40.32" y="236.88" width="4.01" height="1.99" fill="#edf13d"/>
<rect x="192.8" y="236.88" width="4.01" height="1.99" fill="#edf13d"/>
<rect x="198.82" y="236.88" width="2.01" height="1.99" fill="#edf13d"/>
<rect x="283.08" y="236.88" width="2.01" height="1.99" fill="#edf13d"/>
<rect x="40.32" y="234.88" width="2.01" height="1.99" fill="#edf13d"/>
<rect x="172.74" y="234.88" width="2.01" height="1.99" fill="#edf13d"/>
<rect x="176.75" y="234.88" width="2.01" height="1.99" fill="#edf13d"/>
<rect x="192.8" y="234.88" width="2.01" height="1.99" fill="#edf13d"/>
<rect x="196.81" y="234.88" width="4.01" height="1.99" fill="#edf13d"/>
<rect x="240.95" y="234.88" width="2.01" height="1.99" fill="#edf13d"/>
<rect x="40.32" y="232.89" width="6.02" height="1.99" fill="#edf13d"/>
<rect x="178.76" y="232.89" width="2.01" height="1.99" fill="#edf13d"/>
<rect x="190.79" y="232.89" width="4.01" height="1.99" fill="#edf13d"/>
<rect x="198.82" y="232.89" width="2.01" height="1.99" fill="#edf13d"/>
<rect x="277.06" y="232.89" width="2.01" height="1.99" fill="#edf13d"/>
<rect x="44.34" y="230.89" width="2.01" height="1.99" fill="#edf13d"/>
<rect x="176.75" y="230.89" width="2.01" height="1.99" fill="#edf13d"/>
<rect x="190.79" y="230.89" width="2.01" height="1.99" fill="#edf13d"/>
<rect x="198.82" y="230.89" width="2.01" height="1.99" fill="#edf13d"/>
<rect x="32.3" y="228.9" width="20.06" height="1.99" fill="#edf13d"/>
<rect x="54.37" y="228.9" width="92.29" height="1.99" fill="#edf13d"/>
<rect x="148.66" y="228.9" width="52.16" height="1.99" fill="#edf13d"/>
<rect x="248.98" y="228.9" width="14.04" height="1.99" fill="#edf13d"/>
<rect x="265.03" y="228.9" width="6.02" height="1.99" fill="#edf13d"/>
<rect x="273.05" y="228.9" width="16.05" height="1.99" fill="#edf13d"/>
<rect x="32.3" y="248.84" width="2.01" height="3.99" fill="#edf13d"/>
<rect x="34.31" y="248.84" width="2.01" height="3.99" fill="#edf13d"/>
<rect x="36.31" y="248.84" width="2.01" height="3.99" fill="#edf13d"/>
<rect x="38.32" y="248.84" width="2.01" height="5.98" fill="#edf13d"/>
<rect x="40.32" y="260.8" width="2.01" height="31.9" fill="#edf13d"/>
<rect x="40.32" y="248.84" width="2.01" height="9.97" fill="#edf13d"/>
<rect x="40.32" y="232.89" width="2.01" height="7.97" fill="#edf13d"/>
<rect x="42.33" y="262.79" width="2.01" height="29.91" fill="#edf13d"/>
<rect x="42.33" y="254.82" width="2.01" height="5.98" fill="#edf13d"/>
<rect x="42.33" y="248.84" width="2.01" height="3.99" fill="#edf13d"/>
<rect x="42.33" y="236.88" width="2.01" height="5.98" fill="#edf13d"/>
<rect x="44.34" y="288.71" width="2.01" height="3.99" fill="#edf13d"/>
<rect x="44.34" y="270.77" width="2.01" height="7.97" fill="#edf13d"/>
<rect x="44.34" y="248.84" width="2.01" height="19.94" fill="#edf13d"/>
<rect x="44.34" y="238.87" width="2.01" height="5.98" fill="#edf13d"/>
<rect x="44.34" y="228.9" width="2.01" height="5.98" fill="#edf13d"/>
<rect x="46.34" y="284.72" width="2.01" height="5.98" fill="#edf13d"/>
<rect x="46.34" y="256.81" width="2.01" height="3.99" fill="#edf13d"/>
<rect x="46.34" y="248.84" width="2.01" height="3.99" fill="#edf13d"/>
<rect x="48.35" y="268.77" width="2.01" height="3.99" fill="#edf13d"/>
<rect x="48.35" y="248.84" width="2.01" height="3.99" fill="#edf13d"/>
<rect x="50.36" y="248.84" width="2.01" height="3.99" fill="#edf13d"/>
<rect x="52.36" y="248.84" width="2.01" height="3.99" fill="#edf13d"/>
<rect x="54.37" y="248.84" width="2.01" height="3.99" fill="#edf13d"/>
<rect x="56.38" y="248.84" width="2.01" height="3.99" fill="#edf13d"/>
<rect x="58.38" y="248.84" width="2.01" height="3.99" fill="#edf13d"/>
<rect x="60.39" y="248.84" width="2.01" height="3.99" fill="#edf13d"/>
<rect x="62.39" y="248.84" width="2.01" height="3.99" fill="#edf13d"/>
<rect x="64.4" y="248.84" width="2.01" height="3.99" fill="#edf13d"/>
<rect x="66.41" y="248.84" width="2.01" height="3.99" fill="#edf13d"/>
<rect x="68.41" y="248.84" width="2.01" height="5.98" fill="#edf13d"/>
<rect x="70.42" y="248.84" width="2.01" height="3.99" fill="#edf13d"/>
<rect x="72.42" y="248.84" width="2.01" height="3.99" fill="#edf13d"/>
<rect x="74.43" y="282.73" width="2.01" height="3.99" fill="#edf13d"/>
<rect x="74.43" y="248.84" width="2.01" height="3.99" fill="#edf13d"/>
<rect x="76.44" y="248.84" width="2.01" height="3.99" fill="#edf13d"/>
<rect x="78.44" y="248.84" width="2.01" height="3.99" fill="#edf13d"/>
<rect x="80.45" y="248.84" width="2.01" height="3.99" fill="#edf13d"/>
<rect x="82.46" y="248.84" width="2.01" height="3.99" fill="#edf13d"/>
<rect x="84.46" y="248.84" width="2.01" height="3.99" fill="#edf13d"/>
<rect x="104.53" y="254.82" width="2.01" height="3.99" fill="#edf13d"/>
<rect x="122.58" y="268.77" width="2.01" height="3.99" fill="#edf13d"/>
<rect x="130.61" y="266.78" width="2.01" height="3.99" fill="#edf13d"/>
<rect x="136.62" y="264.79" width="2.01" height="3.99" fill="#edf13d"/>
<rect x="136.62" y="248.84" width="2.01" height="3.99" fill="#edf13d"/>
<rect x="138.63" y="246.84" width="2.01" height="5.98" fill="#edf13d"/>
<rect x="140.64" y="248.84" width="2.01" height="3.99" fill="#edf13d"/>
<rect x="142.64" y="248.84" width="2.01" height="3.99" fill="#edf13d"/>
<rect x="144.65" y="248.84" width="2.01" height="3.99" fill="#edf13d"/>
<rect x="146.66" y="248.84" width="2.01" height="3.99" fill="#edf13d"/>
<rect x="148.66" y="248.84" width="2.01" height="3.99" fill="#edf13d"/>
<rect x="150.67" y="248.84" width="2.01" height="3.99" fill="#edf13d"/>
<rect x="152.68" y="248.84" width="2.01" height="3.99" fill="#edf13d"/>
<rect x="154.68" y="248.84" width="2.01" height="3.99" fill="#edf13d"/>
<rect x="156.69" y="248.84" width="2.01" height="3.99" fill="#edf13d"/>
<rect x="158.69" y="248.84" width="2.01" height="3.99" fill="#edf13d"/>
<rect x="160.7" y="248.84" width="2.01" height="3.99" fill="#edf13d"/>
<rect x="162.71" y="248.84" width="2.01" height="5.98" fill="#edf13d"/>
<rect x="164.71" y="248.84" width="2.01" height="3.99" fill="#edf13d"/>
<rect x="166.72" y="248.84" width="2.01" height="3.99" fill="#edf13d"/>
<rect x="168.73" y="248.84" width="2.01" height="3.99" fill="#edf13d"/>
<rect x="170.73" y="248.84" width="2.01" height="3.99" fill="#edf13d"/>
<rect x="172.74" y="288.71" width="2.01" height="3.99" fill="#edf13d"/>
<rect x="172.74" y="280.74" width="2.01" height="3.99" fill="#edf13d"/>
<rect x="172.74" y="260.8" width="2.01" height="5.98" fill="#edf13d"/>
<rect x="172.74" y="248.84" width="2.01" height="3.99" fill="#edf13d"/>
<rect x="174.74" y="280.74" width="2.01" height="3.99" fill="#edf13d"/>
<rect x="174.74" y="256.81" width="2.01" height="9.97" fill="#edf13d"/>
<rect x="174.74" y="248.84" width="2.01" height="3.99" fill="#edf13d"/>
<rect x="174.74" y="238.87" width="2.01" height="7.97" fill="#edf13d"/>
<rect x="176.75" y="278.74" width="2.01" height="13.96" fill="#edf13d"/>
<rect x="176.75" y="242.86" width="2.01" height="33.89" fill="#edf13d"/>
<rect x="176.75" y="228.9" width="2.01" height="3.99" fill="#edf13d"/>
<rect x="178.76" y="286.72" width="2.01" height="5.98" fill="#edf13d"/>
<rect x="178.76" y="276.75" width="2.01" height="3.99" fill="#edf13d"/>
<rect x="178.76" y="268.77" width="2.01" height="5.98" fill="#edf13d"/>
<rect x="178.76" y="242.86" width="2.01" height="11.96" fill="#edf13d"/>
<rect x="180.76" y="268.77" width="2.01" height="3.99" fill="#edf13d"/>
<rect x="180.76" y="262.79" width="2.01" height="3.99" fill="#edf13d"/>
<rect x="180.76" y="248.84" width="2.01" height="3.99" fill="#edf13d"/>
<rect x="182.77" y="282.73" width="2.01" height="3.99" fill="#edf13d"/>
<rect x="182.77" y="248.84" width="2.01" height="3.99" fill="#edf13d"/>
<rect x="184.77" y="248.84" width="2.01" height="3.99" fill="#edf13d"/>
<rect x="186.78" y="248.84" width="2.01" height="3.99" fill="#edf13d"/>
<rect x="188.79" y="248.84" width="2.01" height="3.99" fill="#edf13d"/>
<rect x="190.79" y="248.84" width="2.01" height="3.99" fill="#edf13d"/>
<rect x="190.79" y="238.87" width="2.01" height="3.99" fill="#edf13d"/>
<rect x="190.79" y="228.9" width="2.01" height="5.98" fill="#edf13d"/>
<rect x="192.8" y="276.75" width="2.01" height="11.96" fill="#edf13d"/>
<rect x="192.8" y="256.81" width="2.01" height="9.97" fill="#edf13d"/>
<rect x="192.8" y="246.84" width="2.01" height="7.97" fill="#edf13d"/>
<rect x="192.8" y="232.89" width="2.01" height="5.98" fill="#edf13d"/>
<rect x="194.81" y="282.73" width="2.01" height="9.97" fill="#edf13d"/>
<rect x="194.81" y="244.85" width="2.01" height="31.9" fill="#edf13d"/>
<rect x="196.81" y="282.73" width="2.01" height="3.99" fill="#edf13d"/>
<rect x="196.81" y="256.81" width="2.01" height="5.98" fill="#edf13d"/>
<rect x="196.81" y="248.84" width="2.01" height="3.99" fill="#edf13d"/>
<rect x="198.82" y="228.9" width="2.01" height="23.92" fill="#edf13d"/>
<rect x="200.82" y="248.84" width="2.01" height="3.99" fill="#edf13d"/>
<rect x="202.83" y="286.72" width="2.01" height="3.99" fill="#edf13d"/>
<rect x="202.83" y="248.84" width="2.01" height="3.99" fill="#edf13d"/>
<rect x="204.84" y="262.79" width="2.01" height="3.99" fill="#edf13d"/>
<rect x="204.84" y="248.84" width="2.01" height="3.99" fill="#edf13d"/>
<rect x="206.84" y="284.72" width="2.01" height="3.99" fill="#edf13d"/>
<rect x="206.84" y="248.84" width="2.01" height="3.99" fill="#edf13d"/>
<rect x="208.85" y="248.84" width="2.01" height="3.99" fill="#edf13d"/>
<rect x="210.86" y="248.84" width="2.01" height="3.99" fill="#edf13d"/>
<rect x="212.86" y="248.84" width="2.01" height="3.99" fill="#edf13d"/>
<rect x="214.87" y="248.84" width="2.01" height="3.99" fill="#edf13d"/>
<rect x="216.88" y="248.84" width="2.01" height="3.99" fill="#edf13d"/>
<rect x="218.88" y="248.84" width="2.01" height="3.99" fill="#edf13d"/>
<rect x="220.89" y="248.84" width="2.01" height="5.98" fill="#edf13d"/>
<rect x="222.89" y="248.84" width="2.01" height="3.99" fill="#edf13d"/>
<rect x="224.9" y="248.84" width="2.01" height="3.99" fill="#edf13d"/>
<rect x="226.91" y="248.84" width="2.01" height="3.99" fill="#edf13d"/>
<rect x="228.91" y="260.8" width="2.01" height="3.99" fill="#edf13d"/>
<rect x="228.91" y="248.84" width="2.01" height="3.99" fill="#edf13d"/>
<rect x="230.92" y="258.81" width="2.01" height="3.99" fill="#edf13d"/>
<rect x="230.92" y="248.84" width="2.01" height="3.99" fill="#edf13d"/>
<rect x="232.93" y="248.84" width="2.01" height="3.99" fill="#edf13d"/>
<rect x="234.93" y="248.84" width="2.01" height="3.99" fill="#edf13d"/>
<rect x="236.94" y="254.82" width="2.01" height="5.98" fill="#edf13d"/>
<rect x="236.94" y="248.84" width="2.01" height="3.99" fill="#edf13d"/>
<rect x="238.94" y="248.84" width="2.01" height="3.99" fill="#edf13d"/>
<rect x="240.95" y="248.84" width="2.01" height="3.99" fill="#edf13d"/>
<rect x="242.96" y="248.84" width="2.01" height="3.99" fill="#edf13d"/>
<rect x="244.96" y="248.84" width="2.01" height="3.99" fill="#edf13d"/>
<rect x="246.97" y="248.84" width="2.01" height="3.99" fill="#edf13d"/>
<rect x="248.98" y="248.84" width="2.01" height="3.99" fill="#edf13d"/>
<rect x="250.98" y="248.84" width="2.01" height="3.99" fill="#edf13d"/>
<rect x="252.99" y="248.84" width="2.01" height="3.99" fill="#edf13d"/>
<rect x="254.99" y="248.84" width="2.01" height="3.99" fill="#edf13d"/>
<rect x="257" y="248.84" width="2.01" height="3.99" fill="#edf13d"/>
<rect x="259.01" y="248.84" width="2.01" height="3.99" fill="#edf13d"/>
<rect x="261.01" y="248.84" width="2.01" height="3.99" fill="#edf13d"/>
<rect x="263.02" y="248.84" width="2.01" height="3.99" fill="#edf13d"/>
<rect x="265.03" y="276.75" width="2.01" height="3.99" fill="#edf13d"/>
<rect x="265.03" y="248.84" width="2.01" height="5.98" fill="#edf13d"/>
<rect x="267.03" y="248.84" width="2.01" height="3.99" fill="#edf13d"/>
<rect x="269.04" y="248.84" width="2.01" height="3.99" fill="#edf13d"/>
<rect x="271.04" y="248.84" width="2.01" height="5.98" fill="#edf13d"/>
<rect x="273.05" y="248.84" width="2.01" height="3.99" fill="#edf13d"/>
<rect x="275.06" y="288.71" width="2.01" height="3.99" fill="#edf13d"/>
<rect x="275.06" y="248.84" width="2.01" height="3.99" fill="#edf13d"/>
<rect x="277.06" y="248.84" width="2.01" height="3.99" fill="#edf13d"/>
<rect x="279.07" y="248.84" width="2.01" height="3.99" fill="#edf13d"/>
<rect x="281.07" y="248.84" width="2.01" height="3.99" fill="#edf13d"/>
<rect x="283.08" y="248.84" width="2.01" height="3.99" fill="#edf13d"/>
<rect x="285.09" y="248.84" width="2.01" height="3.99" fill="#edf13d"/>
<rect x="287.09" y="248.84" width="2.01" height="5.98" fill="#edf13d"/>
<rect x="32.3" y="228.9" width="256.8" height="63.8" fill="none" stroke="#111" stroke-width="0.7"/>
<line x1="33.3" y1="292.7" x2="33.3" y2="295.5" stroke="#333" stroke-width="0.7"/>
<line x1="73.43" y1="292.7" x2="73.43" y2="295.5" stroke="#333" stroke-width="0.7"/>
<line x1="113.55" y1="292.7" x2="113.55" y2="295.5" stroke="#333" stroke-width="0.7"/>
<line x1="153.68" y1="292.7" x2="153.68" y2="295.5" stroke="#333" stroke-width="0.7"/>
<line x1="193.8" y1="292.7" x2="193.8" y2="295.5" stroke="#333" stroke-width="0.7"/>
<line x1="233.93" y1="292.7" x2="233.93" y2="295.5" stroke="#333" stroke-width="0.7"/>
<line x1="274.05" y1="292.7" x2="274.05" y2="295.5" stroke="#333" stroke-width="0.7"/>
<line x1="29.5" y1="291.7" x2="32.3" y2="291.7" stroke="#333" stroke-width="0.7"/>
<line x1="29.5" y1="271.77" x2="32.3" y2="271.77" stroke="#333" stroke-width="0.7"/>
<line x1="29.5" y1="251.83" x2="32.3" y2="251.83" stroke="#333" stroke-width="0.7"/>
<line x1="29.5" y1="231.89" x2="32.3" y2="231.89" stroke="#333" stroke-width="0.7"/>
<rect x="305.5" y="201.1" width="6.4" height="59.55" fill="#edf13d"/>
<rect x="305.5" y="260.65" width="6.4" height="59.55" fill="#410a57"/>
<rect x="305.5" y="201.1" width="6.4" height="119.1" fill="none" stroke="#111" stroke-width="0.6"/>
<line x1="311.9" y1="201.1" x2="313.9" y2="201.1" stroke="#333" stroke-width="0.6"/>
<line x1="311.9" y1="320.2" x2="313.9" y2="320.2" stroke="#333" stroke-width="0.6"/>
<rect x="469.6" y="197.3" width="110.3" height="110.4" fill="#410a57"/>
<rect x="469.6" y="280.1" width="3.45" height="27.6" fill="#edf13d"/>
<rect x="469.6" y="231.8" width="3.45" height="6.9" fill="#edf13d"/>
<rect x="469.6" y="197.3" width="3.45" height="6.9" fill="#edf13d"/>
<rect x="473.05" y="238.7" width="3.45" height="69" fill="#edf13d"/>
<rect x="473.05" y="204.2" width="3.45" height="27.6" fill="#edf13d"/>
<rect x="476.49" y="238.7" width="3.45" height="69" fill="#4a9c8b"/>
<rect x="476.49" y="204.2" width="3.45" height="27.6" fill="#4a9c8b"/>
<rect x="493.73" y="231.8" width="3.45" height="6.9" fill="#4a9c8b"/>
<rect x="514.41" y="231.8" width="3.45" height="6.9" fill="#edf13d"/>
<rect x="517.86" y="197.3" width="3.45" height="6.9" fill="#4a9c8b"/>
<rect x="521.3" y="197.3" width="3.45" height="6.9" fill="#edf13d"/>
<rect x="531.64" y="238.7" width="3.45" height="69" fill="#edf13d"/>
<rect x="531.64" y="204.2" width="3.45" height="27.6" fill="#edf13d"/>
<rect x="535.09" y="238.7" width="3.45" height="69" fill="#4a9c8b"/>
<rect x="535.09" y="204.2" width="3.45" height="27.6" fill="#4a9c8b"/>
<rect x="538.54" y="238.7" width="3.45" height="69" fill="#edf13d"/>
<rect x="538.54" y="204.2" width="3.45" height="27.6" fill="#edf13d"/>
<rect x="541.98" y="235.25" width="3.45" height="72.45" fill="#4a9c8b"/>
<rect x="541.98" y="197.3" width="3.45" height="34.5" fill="#4a9c8b"/>
<rect x="555.77" y="231.8" width="3.45" height="6.9" fill="#4a9c8b"/>
<rect x="559.22" y="231.8" width="3.45" height="6.9" fill="#edf13d"/>
<rect x="562.67" y="197.3" width="3.45" height="6.9" fill="#edf13d"/>
<rect x="569.56" y="255.95" width="3.45" height="3.45" fill="#edf13d"/>
<rect x="573.01" y="255.95" width="3.45" height="3.45" fill="#4a9c8b"/>
<rect x="573.01" y="197.3" width="3.45" height="6.9" fill="#edf13d"/>
<rect x="573.01" y="231.8" width="3.45" height="6.9" fill="#4a9c8b"/>
<rect x="576.45" y="231.8" width="3.45" height="6.9" fill="#edf13d"/>
<rect x="469.6" y="197.3" width="110.3" height="110.4" fill="none" stroke="#111" stroke-width="0.7"/>
<line x1="471.32" y1="307.7" x2="471.32" y2="310.7" stroke="#333" stroke-width="0.7"/>
<line x1="505.79" y1="307.7" x2="505.79" y2="310.7" stroke="#333" stroke-width="0.7"/>
<line x1="540.26" y1="307.7" x2="540.26" y2="310.7" stroke="#333" stroke-width="0.7"/>
<line x1="574.73" y1="307.7" x2="574.73" y2="310.7" stroke="#333" stroke-width="0.7"/>
<line x1="466.6" y1="305.97" x2="469.6" y2="305.97" stroke="#333" stroke-width="0.7"/>
<line x1="466.6" y1="288.73" x2="469.6" y2="288.73" stroke="#333" stroke-width="0.7"/>
<line x1="466.6" y1="271.48" x2="469.6" y2="271.48" stroke="#333" stroke-width="0.7"/>
<line x1="466.6" y1="254.22" x2="469.6" y2="254.22" stroke="#333" stroke-width="0.7"/>
<line x1="466.6" y1="236.98" x2="469.6" y2="236.98" stroke="#333" stroke-width="0.7"/>
<line x1="466.6" y1="219.73" x2="469.6" y2="219.73" stroke="#333" stroke-width="0.7"/>
<line x1="466.6" y1="202.48" x2="469.6" y2="202.48" stroke="#333" stroke-width="0.7"/>
<rect x="587.4" y="197.3" width="6" height="36.95" fill="#edf13d"/>
<rect x="587.4" y="234.2" width="6" height="36.95" fill="#410a57"/>
<rect x="587.4" y="271.1" width="6" height="36.95" fill="#4a9c8b"/>
<rect x="587.4" y="197.3" width="6" height="110.7" fill="none" stroke="#111" stroke-width="0.6"/>
<line x1="593.4" y1="197.3" x2="595.6" y2="197.3" stroke="#333" stroke-width="0.6"/>
<line x1="593.4" y1="252.65" x2="595.6" y2="252.65" stroke="#333" stroke-width="0.6"/>
<line x1="593.4" y1="308" x2="595.6" y2="308" stroke="#333" stroke-width="0.6"/>
<rect x="31.6" y="393.2" width="252.1" height="62.1" fill="#410a57"/>
<rect x="39.48" y="416.49" width="1.97" height="38.81" fill="#edf13d"/>
<rect x="39.48" y="395.82" width="1.97" height="16.79" fill="#edf13d"/>
<rect x="47.36" y="416.49" width="1.97" height="38.81" fill="#4a9c8b"/>
<rect x="47.36" y="395.82" width="1.97" height="16.79" fill="#4a9c8b"/>
<rect x="86.75" y="412.61" width="1.97" height="3.88" fill="#4a9c8b"/>
<rect x="134.02" y="412.61" width="1.97" height="3.88" fill="#edf13d"/>
<rect x="141.89" y="393.2" width="1.97" height="1.94" fill="#4a9c8b"/>
<rect x="149.77" y="393.2" width="1.97" height="1.94" fill="#edf13d"/>
<rect x="173.41" y="416.49" width="1.97" height="38.81" fill="#edf13d"/>
<rect x="173.41" y="395.82" width="1.97" height="16.79" fill="#edf13d"/>
<rect x="181.28" y="416.49" width="1.97" height="38.81" fill="#4a9c8b"/>
<rect x="181.28" y="395.82" width="1.97" height="16.79" fill="#4a9c8b"/>
<rect x="189.16" y="416.49" width="1.97" height="38.81" fill="#edf13d"/>
<rect x="189.16" y="395.82" width="1.97" height="16.79" fill="#edf13d"/>
<rect x="197.04" y="414.55" width="1.97" height="40.75" fill="#4a9c8b"/>
<rect x="197.04" y="393.2" width="1.97" height="19.41" fill="#4a9c8b"/>
<rect x="228.55" y="412.61" width="1.97" height="1.94" fill="#4a9c8b"/>
<rect x="236.43" y="412.61" width="1.97" height="1.94" fill="#edf13d"/>
<rect x="244.31" y="393.2" width="1.97" height="1.94" fill="#edf13d"/>
<rect x="267.94" y="393.2" width="1.97" height="1.94" fill="#edf13d"/>
<rect x="267.94" y="412.61" width="1.97" height="1.94" fill="#4a9c8b"/>
<rect x="275.82" y="412.61" width="1.97" height="1.94" fill="#edf13d"/>
<rect x="260.07" y="426.19" width="1.97" height="1.94" fill="#edf13d"/>
<rect x="267.94" y="426.19" width="1.97" height="1.94" fill="#4a9c8b"/>
<rect x="31.6" y="393.2" width="252.1" height="62.1" fill="none" stroke="#111" stroke-width="0.7"/>
<line x1="32.58" y1="455.3" x2="32.58" y2="458.1" stroke="#333" stroke-width="0.7"/>
<line x1="71.98" y1="455.3" x2="71.98" y2="458.1" stroke="#333" stroke-width="0.7"/>
<line x1="111.37" y1="455.3" x2="111.37" y2="458.1" stroke="#333" stroke-width="0.7"/>
<line x1="150.76" y1="455.3" x2="150.76" y2="458.1" stroke="#333" stroke-width="0.7"/>
<line x1="190.15" y1="455.3" x2="190.15" y2="458.1" stroke="#333" stroke-width="0.7"/>
<line x1="229.54" y1="455.3" x2="229.54" y2="458.1" stroke="#333" stroke-width="0.7"/>
<line x1="268.93" y1="455.3" x2="268.93" y2="458.1" stroke="#333" stroke-width="0.7"/>
<line x1="28.8" y1="454.33" x2="31.6" y2="454.33" stroke="#333" stroke-width="0.7"/>
<line x1="28.8" y1="434.92" x2="31.6" y2="434.92" stroke="#333" stroke-width="0.7"/>
<line x1="28.8" y1="415.52" x2="31.6" y2="415.52" stroke="#333" stroke-width="0.7"/>
<line x1="28.8" y1="396.11" x2="31.6" y2="396.11" stroke="#333" stroke-width="0.7"/>
<rect x="299.6" y="365.6" width="5.9" height="39.08" fill="#edf13d"/>
<rect x="299.6" y="404.63" width="5.9" height="39.08" fill="#410a57"/>
<rect x="299.6" y="443.67" width="5.9" height="39.08" fill="#4a9c8b"/>
<rect x="299.6" y="365.6" width="5.9" height="117.1" fill="none" stroke="#111" stroke-width="0.6"/>
<line x1="305.5" y1="365.6" x2="307.5" y2="365.6" stroke="#333" stroke-width="0.6"/>
<line x1="305.5" y1="424.15" x2="307.5" y2="424.15" stroke="#333" stroke-width="0.6"/>
<line x1="305.5" y1="482.7" x2="307.5" y2="482.7" stroke="#333" stroke-width="0.6"/>
<rect x="458.3" y="390.9" width="133.7" height="66.2" fill="#410a57"/>
<rect x="462.25" y="390.9" width="1.5" height="66.2" fill="#edf13d"/>
<rect x="491.5" y="390.9" width="1.5" height="66.2" fill="#edf13d"/>
<rect x="495.67" y="390.9" width="1.5" height="66.2" fill="#edf13d"/>
<rect x="499.85" y="390.9" width="1.5" height="66.2" fill="#edf13d"/>
<rect x="504.03" y="390.9" width="1.5" height="66.2" fill="#edf13d"/>
<rect x="508.21" y="390.9" width="1.5" height="66.2" fill="#edf13d"/>
<rect x="533.28" y="390.9" width="1.5" height="66.2" fill="#edf13d"/>
<rect x="549.99" y="390.9" width="1.5" height="66.2" fill="#edf13d"/>
<rect x="537.45" y="390.9" width="1.5" height="34.13" fill="#edf13d"/>
<rect x="537.45" y="434.55" width="1.5" height="1.66" fill="#edf13d"/>
<rect x="541.63" y="390.9" width="1.5" height="10.34" fill="#4a9c8b"/>
<rect x="541.63" y="401.24" width="1.5" height="1.03" fill="#edf13d"/>
<rect x="541.63" y="404.35" width="1.5" height="19.65" fill="#edf13d"/>
<rect x="541.63" y="424" width="1.5" height="33.1" fill="#4a9c8b"/>
<rect x="545.81" y="390.9" width="1.5" height="10.34" fill="#4a9c8b"/>
<rect x="545.81" y="401.24" width="1.5" height="1.03" fill="#edf13d"/>
<rect x="545.81" y="404.35" width="1.5" height="19.65" fill="#edf13d"/>
<rect x="545.81" y="424" width="1.5" height="33.1" fill="#4a9c8b"/>
<rect x="583.41" y="390.9" width="1.5" height="10.34" fill="#4a9c8b"/>
<rect x="583.41" y="401.24" width="1.5" height="1.03" fill="#edf13d"/>
<rect x="583.41" y="404.35" width="1.5" height="19.65" fill="#edf13d"/>
<rect x="583.41" y="424" width="1.5" height="33.1" fill="#4a9c8b"/>
<rect x="587.59" y="390.9" width="1.5" height="10.34" fill="#4a9c8b"/>
<rect x="587.59" y="401.24" width="1.5" height="1.03" fill="#edf13d"/>
<rect x="587.59" y="404.35" width="1.5" height="19.65" fill="#edf13d"/>
<rect x="587.59" y="424" width="1.5" height="33.1" fill="#4a9c8b"/>
<rect x="466.43" y="390.9" width="1.5" height="34.13" fill="#edf13d"/>
<rect x="466.43" y="425.03" width="1.5" height="23.79" fill="#4a9c8b"/>
<rect x="466.43" y="434.55" width="1.5" height="1.66" fill="#edf13d"/>
<rect x="470.6" y="390.9" width="1.5" height="34.13" fill="#edf13d"/>
<rect x="470.6" y="425.03" width="1.5" height="23.79" fill="#4a9c8b"/>
<rect x="470.6" y="434.55" width="1.5" height="1.66" fill="#edf13d"/>
<rect x="474.78" y="390.9" width="1.5" height="34.13" fill="#edf13d"/>
<rect x="474.78" y="425.03" width="1.5" height="23.79" fill="#4a9c8b"/>
<rect x="474.78" y="434.55" width="1.5" height="1.66" fill="#edf13d"/>
<rect x="478.96" y="390.9" width="1.5" height="34.13" fill="#edf13d"/>
<rect x="478.96" y="425.03" width="1.5" height="23.79" fill="#4a9c8b"/>
<rect x="478.96" y="434.55" width="1.5" height="1.66" fill="#edf13d"/>
<rect x="483.14" y="390.9" width="1.5" height="34.13" fill="#edf13d"/>
<rect x="483.14" y="425.03" width="1.5" height="23.79" fill="#4a9c8b"/>
<rect x="483.14" y="434.55" width="1.5" height="1.66" fill="#edf13d"/>
<rect x="487.32" y="390.9" width="1.5" height="34.13" fill="#edf13d"/>
<rect x="487.32" y="425.03" width="1.5" height="23.79" fill="#4a9c8b"/>
<rect x="487.32" y="434.55" width="1.5" height="1.66" fill="#edf13d"/>
<rect x="512.39" y="390.9" width="1.5" height="34.13" fill="#edf13d"/>
<rect x="512.39" y="434.55" width="1.5" height="1.66" fill="#edf13d"/>
<rect x="512.39" y="448.83" width="1.5" height="8.28" fill="#edf13d"/>
<rect x="516.56" y="390.9" width="1.5" height="34.13" fill="#edf13d"/>
<rect x="516.56" y="434.55" width="1.5" height="1.66" fill="#edf13d"/>
<rect x="516.56" y="448.83" width="1.5" height="8.28" fill="#edf13d"/>
<rect x="520.74" y="390.9" width="1.5" height="34.13" fill="#edf13d"/>
<rect x="520.74" y="434.55" width="1.5" height="1.66" fill="#edf13d"/>
<rect x="520.74" y="448.83" width="1.5" height="8.28" fill="#edf13d"/>
<rect x="524.92" y="390.9" width="1.5" height="34.13" fill="#edf13d"/>
<rect x="524.92" y="434.55" width="1.5" height="1.66" fill="#edf13d"/>
<rect x="524.92" y="448.83" width="1.5" height="8.28" fill="#edf13d"/>
<rect x="529.1" y="390.9" width="1.5" height="34.13" fill="#edf13d"/>
<rect x="529.1" y="434.55" width="1.5" height="1.66" fill="#edf13d"/>
<rect x="529.1" y="448.83" width="1.5" height="8.28" fill="#edf13d"/>
<rect x="554.17" y="390.9" width="1.5" height="34.13" fill="#edf13d"/>
<rect x="554.17" y="434.55" width="1.5" height="1.66" fill="#edf13d"/>
<rect x="554.17" y="448.83" width="1.5" height="8.28" fill="#edf13d"/>
<rect x="558.35" y="390.9" width="1.5" height="34.13" fill="#edf13d"/>
<rect x="558.35" y="434.55" width="1.5" height="1.66" fill="#edf13d"/>
<rect x="558.35" y="448.83" width="1.5" height="8.28" fill="#edf13d"/>
<rect x="562.52" y="390.9" width="1.5" height="34.13" fill="#edf13d"/>
<rect x="562.52" y="434.55" width="1.5" height="1.66" fill="#edf13d"/>
<rect x="562.52" y="448.83" width="1.5" height="8.28" fill="#edf13d"/>
<rect x="566.7" y="390.9" width="1.5" height="34.13" fill="#edf13d"/>
<rect x="566.7" y="434.55" width="1.5" height="1.66" fill="#edf13d"/>
<rect x="566.7" y="448.83" width="1.5" height="8.28" fill="#edf13d"/>
<rect x="570.88" y="390.9" width="1.5" height="34.13" fill="#edf13d"/>
<rect x="570.88" y="434.55" width="1.5" height="1.66" fill="#edf13d"/>
<rect x="570.88" y="448.83" width="1.5" height="8.28" fill="#edf13d"/>
<rect x="575.06" y="390.9" width="1.5" height="34.13" fill="#edf13d"/>
<rect x="575.06" y="434.55" width="1.5" height="1.66" fill="#edf13d"/>
<rect x="575.06" y="448.83" width="1.5" height="8.28" fill="#edf13d"/>
<rect x="579.24" y="390.9" width="1.5" height="34.13" fill="#edf13d"/>
<rect x="579.24" y="434.55" width="1.5" height="1.66" fill="#edf13d"/>
<rect x="579.24" y="448.83" width="1.5" height="8.28" fill="#edf13d"/>
<rect x="458.3" y="447.79" width="1.04" height="9.31" fill="#9a7a3a"/>
<rect x="458.3" y="434.34" width="1.04" height="1.03" fill="#9a7a3a"/>
<rect x="458.3" y="414.69" width="1.04" height="11.38" fill="#6a4a4a"/>
<rect x="458.3" y="399.17" width="1.04" height="1.03" fill="#9a7a3a"/>
<rect x="579.47" y="438.48" width="1.04" height="1.03" fill="#edf13d"/>
<rect x="458.3" y="390.9" width="133.7" height="66.2" fill="none" stroke="#111" stroke-width="0.7"/>
<line x1="458.82" y1="457.1" x2="458.82" y2="460.1" stroke="#333" stroke-width="0.7"/>
<line x1="511.05" y1="457.1" x2="511.05" y2="460.1" stroke="#333" stroke-width="0.7"/>
<line x1="563.28" y1="457.1" x2="563.28" y2="460.1" stroke="#333" stroke-width="0.7"/>
<line x1="455.3" y1="456.58" x2="458.3" y2="456.58" stroke="#333" stroke-width="0.7"/>
<line x1="455.3" y1="435.9" x2="458.3" y2="435.9" stroke="#333" stroke-width="0.7"/>
<line x1="455.3" y1="415.21" x2="458.3" y2="415.21" stroke="#333" stroke-width="0.7"/>
<line x1="455.3" y1="394.52" x2="458.3" y2="394.52" stroke="#333" stroke-width="0.7"/>
<rect x="599.9" y="362.1" width="6.8" height="41.25" fill="#edf13d"/>
<rect x="599.9" y="403.3" width="6.8" height="41.25" fill="#410a57"/>
<rect x="599.9" y="444.5" width="6.8" height="41.25" fill="#4a9c8b"/>
<rect x="599.9" y="362.1" width="6.8" height="123.6" fill="none" stroke="#111" stroke-width="0.6"/>
<line x1="606.7" y1="362.1" x2="608.9" y2="362.1" stroke="#333" stroke-width="0.6"/>
<line x1="606.7" y1="423.9" x2="608.9" y2="423.9" stroke="#333" stroke-width="0.6"/>
<line x1="606.7" y1="485.7" x2="608.9" y2="485.7" stroke="#333" stroke-width="0.6"/>
<rect x="91.3" y="555.3" width="138.1" height="68.7" fill="#edf13d"/>
<rect x="91.3" y="556.37" width="4.32" height="8.59" fill="#410a57"/>
<rect x="91.3" y="567.11" width="4.32" height="12.88" fill="#410a57"/>
<rect x="91.3" y="591.8" width="4.32" height="7.51" fill="#410a57"/>
<rect x="91.3" y="602.53" width="4.32" height="12.24" fill="#410a57"/>
<rect x="99.93" y="591.8" width="25.89" height="23.08" fill="#4a9c8b"/>
<rect x="99.93" y="600.38" width="21.58" height="1.07" fill="#edf13d"/>
<rect x="99.93" y="614.88" width="25.89" height="9.12" fill="#410a57"/>
<rect x="147.4" y="591.8" width="21.58" height="23.08" fill="#410a57"/>
<rect x="147.4" y="600.38" width="21.58" height="2.15" fill="#edf13d"/>
<rect x="174.05" y="591.8" width="4.1" height="32.2" fill="#410a57"/>
<rect x="174.05" y="600.38" width="4.1" height="1.07" fill="#edf13d"/>
<rect x="178.15" y="589.65" width="8.2" height="34.35" fill="#4a9c8b"/>
<rect x="178.15" y="557.23" width="8.2" height="8.48" fill="#4a9c8b"/>
<rect x="178.15" y="568.07" width="4.1" height="1.5" fill="#4a9c8b"/>
<rect x="182.25" y="568.07" width="4.1" height="1.5" fill="#410a57"/>
<rect x="178.15" y="569.58" width="4.1" height="1.18" fill="#410a57"/>
<rect x="190.99" y="591.8" width="30.43" height="23.08" fill="#410a57"/>
<rect x="190.99" y="590.19" width="17.15" height="1.61" fill="#410a57"/>
<rect x="190.99" y="600.38" width="30.43" height="2.15" fill="#edf13d"/>
<rect x="216.45" y="606.83" width="4.96" height="1.07" fill="#edf13d"/>
<rect x="221.42" y="589.65" width="7.98" height="34.35" fill="#4a9c8b"/>
<rect x="221.42" y="557.23" width="7.98" height="8.48" fill="#4a9c8b"/>
<rect x="221.42" y="567.97" width="3.99" height="0.86" fill="#4a9c8b"/>
<rect x="225.41" y="568.07" width="3.99" height="1.72" fill="#410a57"/>
<rect x="221.42" y="568.83" width="3.99" height="0.97" fill="#410a57"/>
<rect x="91.3" y="555.3" width="138.1" height="68.7" fill="none" stroke="#111" stroke-width="0.7"/>
<line x1="91.84" y1="624" x2="91.84" y2="627" stroke="#333" stroke-width="0.7"/>
<line x1="145.78" y1="624" x2="145.78" y2="627" stroke="#333" stroke-width="0.7"/>
<line x1="199.73" y1="624" x2="199.73" y2="627" stroke="#333" stroke-width="0.7"/>
<line x1="88.3" y1="623.46" x2="91.3" y2="623.46" stroke="#333" stroke-width="0.7"/>
<line x1="88.3" y1="601.99" x2="91.3" y2="601.99" stroke="#333" stroke-width="0.7"/>
<line x1="88.3" y1="580.53" x2="91.3" y2="580.53" stroke="#333" stroke-width="0.7"/>
<line x1="88.3" y1="559.06" x2="91.3" y2="559.06" stroke="#333" stroke-width="0.7"/>
<rect x="238" y="525.2" width="7" height="42.88" fill="#edf13d"/>
<rect x="238" y="568.03" width="7" height="42.88" fill="#410a57"/>
<rect x="238" y="610.87" width="7" height="42.88" fill="#4a9c8b"/>
<rect x="238" y="525.2" width="7" height="128.5" fill="none" stroke="#111" stroke-width="0.6"/>
<line x1="245" y1="525.2" x2="247.2" y2="525.2" stroke="#333" stroke-width="0.6"/>
<line x1="245" y1="589.45" x2="247.2" y2="589.45" stroke="#333" stroke-width="0.6"/>
<line x1="245" y1="653.7" x2="247.2" y2="653.7" stroke="#333" stroke-width="0.6"/>
<rect x="460.1" y="556.3" width="136.7" height="67.9" fill="#410a57"/>
<rect x="467.34" y="615.71" width="1.54" height="8.49" fill="#edf13d"/>
<rect x="467.34" y="600.86" width="1.54" height="1.06" fill="#edf13d"/>
<rect x="467.34" y="556.3" width="1.54" height="35.01" fill="#edf13d"/>
<rect x="466.27" y="601.92" width="1.54" height="13.79" fill="#edf13d"/>
<rect x="466.27" y="591.31" width="1.54" height="9.55" fill="#edf13d"/>
<rect x="471.61" y="615.71" width="1.54" height="8.49" fill="#edf13d"/>
<rect x="471.61" y="600.86" width="1.54" height="1.06" fill="#edf13d"/>
<rect x="471.61" y="556.3" width="1.54" height="35.01" fill="#edf13d"/>
<rect x="470.54" y="601.92" width="1.54" height="13.79" fill="#edf13d"/>
<rect x="470.54" y="591.31" width="1.54" height="9.55" fill="#edf13d"/>
<rect x="475.88" y="615.71" width="1.54" height="8.49" fill="#edf13d"/>
<rect x="475.88" y="600.86" width="1.54" height="1.06" fill="#edf13d"/>
<rect x="475.88" y="556.3" width="1.54" height="35.01" fill="#edf13d"/>
<rect x="474.82" y="601.92" width="1.54" height="13.79" fill="#edf13d"/>
<rect x="474.82" y="591.31" width="1.54" height="9.55" fill="#edf13d"/>
<rect x="480.16" y="615.71" width="1.54" height="8.49" fill="#edf13d"/>
<rect x="480.16" y="600.86" width="1.54" height="1.06" fill="#edf13d"/>
<rect x="480.16" y="556.3" width="1.54" height="35.01" fill="#edf13d"/>
<rect x="479.09" y="601.92" width="1.54" height="13.79" fill="#edf13d"/>
<rect x="479.09" y="591.31" width="1.54" height="9.55" fill="#edf13d"/>
<rect x="484.43" y="615.71" width="1.54" height="8.49" fill="#edf13d"/>
<rect x="484.43" y="600.86" width="1.54" height="1.06" fill="#edf13d"/>
<rect x="484.43" y="556.3" width="1.54" height="35.01" fill="#edf13d"/>
<rect x="483.36" y="601.92" width="1.54" height="13.79" fill="#edf13d"/>
<rect x="483.36" y="591.31" width="1.54" height="9.55" fill="#edf13d"/>
<rect x="488.7" y="615.71" width="1.54" height="8.49" fill="#edf13d"/>
<rect x="488.7" y="600.86" width="1.54" height="1.06" fill="#edf13d"/>
<rect x="488.7" y="556.3" width="1.54" height="35.01" fill="#edf13d"/>
<rect x="487.63" y="601.92" width="1.54" height="13.79" fill="#edf13d"/>
<rect x="487.63" y="591.31" width="1.54" height="9.55" fill="#edf13d"/>
<rect x="497.24" y="556.3" width="1.54" height="67.9" fill="#edf13d"/>
<rect x="501.52" y="556.3" width="1.54" height="67.9" fill="#edf13d"/>
<rect x="505.79" y="556.3" width="1.54" height="67.9" fill="#edf13d"/>
<rect x="510.06" y="556.3" width="1.54" height="67.9" fill="#edf13d"/>
<rect x="514.33" y="556.3" width="1.54" height="67.9" fill="#edf13d"/>
<rect x="518.6" y="615.71" width="1.54" height="8.49" fill="#edf13d"/>
<rect x="518.6" y="600.86" width="1.54" height="1.06" fill="#edf13d"/>
<rect x="518.6" y="556.3" width="1.54" height="35.01" fill="#edf13d"/>
<rect x="517.54" y="601.92" width="1.54" height="13.79" fill="#edf13d"/>
<rect x="517.54" y="591.31" width="1.54" height="9.55" fill="#edf13d"/>
<rect x="522.88" y="615.71" width="1.54" height="8.49" fill="#edf13d"/>
<rect x="522.88" y="600.86" width="1.54" height="1.06" fill="#edf13d"/>
<rect x="522.88" y="556.3" width="1.54" height="35.01" fill="#edf13d"/>
<rect x="521.81" y="601.92" width="1.54" height="13.79" fill="#edf13d"/>
<rect x="521.81" y="591.31" width="1.54" height="9.55" fill="#edf13d"/>
<rect x="527.15" y="615.71" width="1.54" height="8.49" fill="#edf13d"/>
<rect x="527.15" y="600.86" width="1.54" height="1.06" fill="#edf13d"/>
<rect x="527.15" y="556.3" width="1.54" height="35.01" fill="#edf13d"/>
<rect x="526.08" y="601.92" width="1.54" height="13.79" fill="#edf13d"/>
<rect x="526.08" y="591.31" width="1.54" height="9.55" fill="#edf13d"/>
<rect x="531.42" y="615.71" width="1.54" height="8.49" fill="#edf13d"/>
<rect x="531.42" y="600.86" width="1.54" height="1.06" fill="#edf13d"/>
<rect x="531.42" y="556.3" width="1.54" height="35.01" fill="#edf13d"/>
<rect x="530.35" y="601.92" width="1.54" height="13.79" fill="#edf13d"/>
<rect x="530.35" y="591.31" width="1.54" height="9.55" fill="#edf13d"/>
<rect x="535.69" y="615.71" width="1.54" height="8.49" fill="#edf13d"/>
<rect x="535.69" y="600.86" width="1.54" height="1.06" fill="#edf13d"/>
<rect x="535.69" y="556.3" width="1.54" height="35.01" fill="#edf13d"/>
<rect x="534.62" y="601.92" width="1.54" height="13.79" fill="#edf13d"/>
<rect x="534.62" y="591.31" width="1.54" height="9.55" fill="#edf13d"/>
<rect x="539.96" y="556.3" width="1.54" height="67.9" fill="#edf13d"/>
<rect x="544.23" y="556.3" width="1.54" height="67.9" fill="#edf13d"/>
<rect x="548.51" y="556.3" width="1.54" height="67.9" fill="#edf13d"/>
<rect x="557.05" y="556.3" width="1.54" height="67.9" fill="#edf13d"/>
<rect x="561.32" y="615.71" width="1.54" height="8.49" fill="#edf13d"/>
<rect x="561.32" y="600.86" width="1.54" height="1.06" fill="#edf13d"/>
<rect x="561.32" y="556.3" width="1.54" height="35.01" fill="#edf13d"/>
<rect x="560.25" y="601.92" width="1.54" height="13.79" fill="#edf13d"/>
<rect x="560.25" y="591.31" width="1.54" height="9.55" fill="#edf13d"/>
<rect x="565.59" y="615.71" width="1.54" height="8.49" fill="#edf13d"/>
<rect x="565.59" y="600.86" width="1.54" height="1.06" fill="#edf13d"/>
<rect x="565.59" y="556.3" width="1.54" height="35.01" fill="#edf13d"/>
<rect x="564.53" y="601.92" width="1.54" height="13.79" fill="#edf13d"/>
<rect x="564.53" y="591.31" width="1.54" height="9.55" fill="#edf13d"/>
<rect x="569.87" y="615.71" width="1.54" height="8.49" fill="#edf13d"/>
<rect x="569.87" y="600.86" width="1.54" height="1.06" fill="#edf13d"/>
<rect x="569.87" y="556.3" width="1.54" height="35.01" fill="#edf13d"/>
<rect x="568.8" y="601.92" width="1.54" height="13.79" fill="#edf13d"/>
<rect x="568.8" y="591.31" width="1.54" height="9.55" fill="#edf13d"/>
<rect x="574.14" y="615.71" width="1.54" height="8.49" fill="#edf13d"/>
<rect x="574.14" y="600.86" width="1.54" height="1.06" fill="#edf13d"/>
<rect x="574.14" y="556.3" width="1.54" height="35.01" fill="#edf13d"/>
<rect x="573.07" y="601.92" width="1.54" height="13.79" fill="#edf13d"/>
<rect x="573.07" y="591.31" width="1.54" height="9.55" fill="#edf13d"/>
<rect x="578.41" y="615.71" width="1.54" height="8.49" fill="#edf13d"/>
<rect x="578.41" y="600.86" width="1.54" height="1.06" fill="#edf13d"/>
<rect x="578.41" y="556.3" width="1.54" height="35.01" fill="#edf13d"/>
<rect x="577.34" y="601.92" width="1.54" height="13.79" fill="#edf13d"/>
<rect x="577.34" y="591.31" width="1.54" height="9.55" fill="#edf13d"/>
<rect x="582.68" y="615.71" width="1.54" height="8.49" fill="#edf13d"/>
<rect x="582.68" y="600.86" width="1.54" height="1.06" fill="#edf13d"/>
<rect x="582.68" y="556.3" width="1.54" height="35.01" fill="#edf13d"/>
<rect x="581.61" y="601.92" width="1.54" height="13.79" fill="#edf13d"/>
<rect x="581.61" y="591.31" width="1.54" height="9.55" fill="#edf13d"/>
<rect x="586.95" y="615.71" width="1.54" height="8.49" fill="#edf13d"/>
<rect x="586.95" y="600.86" width="1.54" height="1.06" fill="#edf13d"/>
<rect x="586.95" y="556.3" width="1.54" height="35.01" fill="#edf13d"/>
<rect x="585.89" y="601.92" width="1.54" height="13.79" fill="#edf13d"/>
<rect x="585.89" y="591.31" width="1.54" height="9.55" fill="#edf13d"/>
<rect x="591.23" y="556.3" width="1.54" height="67.9" fill="#edf13d"/>
<rect x="595.5" y="556.3" width="1.54" height="67.9" fill="#edf13d"/>
<rect x="468.41" y="556.3" width="1.54" height="67.9" fill="#edf13d"/>
<rect x="494.04" y="601.92" width="1.54" height="13.79" fill="#edf13d"/>
<rect x="494.04" y="591.31" width="1.54" height="9.55" fill="#edf13d"/>
<rect x="536.76" y="601.92" width="1.54" height="13.79" fill="#edf13d"/>
<rect x="536.76" y="591.31" width="1.54" height="9.55" fill="#edf13d"/>
<rect x="588.02" y="601.92" width="1.54" height="13.79" fill="#edf13d"/>
<rect x="588.02" y="591.31" width="1.54" height="9.55" fill="#edf13d"/>
<rect x="459.87" y="615.71" width="1.54" height="8.49" fill="#edf13d"/>
<rect x="459.87" y="600.86" width="1.54" height="1.06" fill="#edf13d"/>
<rect x="459.87" y="581.76" width="1.54" height="9.55" fill="#edf13d"/>
<rect x="459.87" y="566.91" width="1.54" height="1.06" fill="#edf13d"/>
<rect x="459.87" y="556.3" width="1.54" height="1.06" fill="#edf13d"/>
<rect x="463.07" y="601.92" width="1.54" height="13.79" fill="#edf13d"/>
<rect x="463.07" y="591.31" width="1.54" height="9.55" fill="#edf13d"/>
<rect x="463.07" y="567.97" width="1.54" height="13.79" fill="#edf13d"/>
<rect x="463.07" y="557.36" width="1.54" height="9.55" fill="#edf13d"/>
<rect x="544.23" y="556.3" width="1.54" height="11.67" fill="#410a57"/>
<rect x="545.3" y="557.36" width="1.54" height="8.49" fill="#edf13d"/>
<rect x="545.3" y="566.91" width="1.54" height="1.06" fill="#edf13d"/>
<rect x="546.37" y="567.97" width="1.54" height="1.06" fill="#edf13d"/>
<rect x="548.51" y="566.91" width="1.54" height="1.06" fill="#410a57"/>
<rect x="549.57" y="566.91" width="1.54" height="1.06" fill="#edf13d"/>
<rect x="552.78" y="556.3" width="1.54" height="12.73" fill="#edf13d"/>
<rect x="552.78" y="591.31" width="1.54" height="32.89" fill="#edf13d"/>
<rect x="541.03" y="556.3" width="1.54" height="67.9" fill="#edf13d"/>
<rect x="591.23" y="556.3" width="1.54" height="11.67" fill="#410a57"/>
<rect x="592.29" y="557.36" width="1.54" height="8.49" fill="#edf13d"/>
<rect x="592.29" y="566.91" width="1.54" height="1.06" fill="#edf13d"/>
<rect x="593.36" y="567.97" width="1.54" height="1.06" fill="#edf13d"/>
<rect x="583.75" y="606.16" width="1.54" height="1.06" fill="#edf13d"/>
<rect x="460.1" y="556.3" width="136.7" height="67.9" fill="none" stroke="#111" stroke-width="0.7"/>
<line x1="460.63" y1="624.2" x2="460.63" y2="627.2" stroke="#333" stroke-width="0.7"/>
<line x1="514.03" y1="624.2" x2="514.03" y2="627.2" stroke="#333" stroke-width="0.7"/>
<line x1="567.43" y1="624.2" x2="567.43" y2="627.2" stroke="#333" stroke-width="0.7"/>
<line x1="457.1" y1="623.67" x2="460.1" y2="623.67" stroke="#333" stroke-width="0.7"/>
<line x1="457.1" y1="602.45" x2="460.1" y2="602.45" stroke="#333" stroke-width="0.7"/>
<line x1="457.1" y1="581.23" x2="460.1" y2="581.23" stroke="#333" stroke-width="0.7"/>
<line x1="457.1" y1="560.01" x2="460.1" y2="560.01" stroke="#333" stroke-width="0.7"/>
<rect x="604.8" y="527" width="7.4" height="63.25" fill="#edf13d"/>
<rect x="604.8" y="590.25" width="7.4" height="63.25" fill="#410a57"/>
<rect x="604.8" y="527" width="7.4" height="126.5" fill="none" stroke="#111" stroke-width="0.6"/>
<line x1="612.2" y1="527" x2="614.4" y2="527" stroke="#333" stroke-width="0.6"/>
<line x1="612.2" y1="653.5" x2="614.4" y2="653.5" stroke="#333" stroke-width="0.6"/>
</g>
<text x="58.38" y="119.8" font-size="10" text-anchor="middle" textLength="6.36" lengthAdjust="spacingAndGlyphs">0</text>
<text x="109.57" y="119.8" font-size="10" text-anchor="middle" textLength="12.72" lengthAdjust="spacingAndGlyphs">20</text>
<text x="51.3" y="109.63" font-size="10" text-anchor="end" textLength="6.36" lengthAdjust="spacingAndGlyphs">0</text>
<text x="51.3" y="58.69" font-size="10" text-anchor="end" textLength="12.72" lengthAdjust="spacingAndGlyphs">20</text>
<text x="155" y="8.5" font-size="10" textLength="15.9" lengthAdjust="spacingAndGlyphs">1.0</text>
<text x="155" y="33.12" font-size="10" textLength="15.9" lengthAdjust="spacingAndGlyphs">0.8</text>
<text x="155" y="57.74" font-size="10" textLength="15.9" lengthAdjust="spacingAndGlyphs">0.6</text>
<text x="155" y="82.36" font-size="10" textLength="15.9" lengthAdjust="spacingAndGlyphs">0.4</text>
<text x="155" y="106.98" font-size="10" textLength="15.9" lengthAdjust="spacingAndGlyphs">0.2</text>
<text x="155" y="131.6" font-size="10" textLength="15.9" lengthAdjust="spacingAndGlyphs">0.0</text>
<text x="191.09" y="119.8" font-size="10" text-anchor="middle" textLength="6.36" lengthAdjust="spacingAndGlyphs">0</text>
<text x="242.59" y="119.8" font-size="10" text-anchor="middle" textLength="12.72" lengthAdjust="spacingAndGlyphs">20</text>
<text x="184.4" y="109.63" font-size="10" text-anchor="end" textLength="6.36" lengthAdjust="spacingAndGlyphs">0</text>
<text x="184.4" y="58.75" font-size="10" text-anchor="end" textLength="12.72" lengthAdjust="spacingAndGlyphs">20</text>
<text x="287.8" y="8.3" font-size="10" textLength="6.36" lengthAdjust="spacingAndGlyphs">1</text>
<text x="287.8" y="131" font-size="10" textLength="6.36" lengthAdjust="spacingAndGlyphs">0</text>
<text x="30.6" y="66.2" font-size="10.8" text-anchor="middle" textLength="73" lengthAdjust="spacingAndGlyphs" transform="rotate(-90 30.6 66.2)">Frequency bin</text>
<text x="36" y="135" font-size="14.5" font-weight="bold" textLength="8.9" lengthAdjust="spacingAndGlyphs">a</text>
<text x="149" y="159.9" font-size="11" textLength="43" lengthAdjust="spacingAndGlyphs">Time [s]</text>
<text x="404.17" y="106.4" font-size="6.4" text-anchor="middle" textLength="4.07" lengthAdjust="spacingAndGlyphs" fill="#333" stroke="#333">0</text>
<text x="442.97" y="106.4" font-size="6.4" text-anchor="middle" textLength="8.14" lengthAdjust="spacingAndGlyphs" fill="#333" stroke="#333">20</text>
<text x="481.76" y="106.4" font-size="6.4" text-anchor="middle" textLength="8.14" lengthAdjust="spacingAndGlyphs" fill="#333" stroke="#333">40</text>
<text x="520.56" y="106.4" font-size="6.4" text-anchor="middle" textLength="8.14" lengthAdjust="spacingAndGlyphs" fill="#333" stroke="#333">60</text>
<text x="559.36" y="106.4" font-size="6.4" text-anchor="middle" textLength="8.14" lengthAdjust="spacingAndGlyphs" fill="#333" stroke="#333">80</text>
<text x="598.15" y="106.4" font-size="6.4" text-anchor="middle" textLength="12.21" lengthAdjust="spacingAndGlyphs" fill="#333" stroke="#333">100</text>
<text x="636.95" y="106.4" font-size="6.4" text-anchor="middle" textLength="12.21" lengthAdjust="spacingAndGlyphs" fill="#333" stroke="#333">120</text>
<text x="396.2" y="96.26" font-size="6.4" text-anchor="end" textLength="4.07" lengthAdjust="spacingAndGlyphs" fill="#333" stroke="#333">0</text>
<text x="396.2" y="77.04" font-size="6.4" text-anchor="end" textLength="8.14" lengthAdjust="spacingAndGlyphs" fill="#333" stroke="#333">10</text>
<text x="396.2" y="57.83" font-size="6.4" text-anchor="end" textLength="8.14" lengthAdjust="spacingAndGlyphs" fill="#333" stroke="#333">20</text>
<text x="396.2" y="38.61" font-size="6.4" text-anchor="end" textLength="8.14" lengthAdjust="spacingAndGlyphs" fill="#333" stroke="#333">30</text>
<text x="678" y="8.82" font-size="6.3" textLength="4.01" lengthAdjust="spacingAndGlyphs" fill="#333" stroke="#333">1</text>
<text x="678" y="123.62" font-size="6.3" textLength="4.01" lengthAdjust="spacingAndGlyphs" fill="#333" stroke="#333">0</text>
<text x="380.9" y="65.4" font-size="11.6" text-anchor="middle" textLength="72.7" lengthAdjust="spacingAndGlyphs" transform="rotate(-90 380.9 65.4)">Frequency bin</text>
<text x="385.6" y="116.8" font-size="12.5" font-weight="bold" textLength="8.5" lengthAdjust="spacingAndGlyphs">b</text>
<text x="506.2" y="120.1" font-size="11.3" textLength="42.2" lengthAdjust="spacingAndGlyphs">Time [s]</text>
<text x="33.3" y="304.7" font-size="6.4" text-anchor="middle" textLength="4.07" lengthAdjust="spacingAndGlyphs" fill="#333" stroke="#333">0</text>
<text x="73.43" y="304.7" font-size="6.4" text-anchor="middle" textLength="8.14" lengthAdjust="spacingAndGlyphs" fill="#333" stroke="#333">20</text>
<text x="113.55" y="304.7" font-size="6.4" text-anchor="middle" textLength="8.14" lengthAdjust="spacingAndGlyphs" fill="#333" stroke="#333">40</text>
<text x="153.68" y="304.7" font-size="6.4" text-anchor="middle" textLength="8.14" lengthAdjust="spacingAndGlyphs" fill="#333" stroke="#333">60</text>
<text x="193.8" y="304.7" font-size="6.4" text-anchor="middle" textLength="8.14" lengthAdjust="spacingAndGlyphs" fill="#333" stroke="#333">80</text>
<text x="233.93" y="304.7" font-size="6.4" text-anchor="middle" textLength="12.21" lengthAdjust="spacingAndGlyphs" fill="#333" stroke="#333">100</text>
<text x="274.05" y="304.7" font-size="6.4" text-anchor="middle" textLength="12.21" lengthAdjust="spacingAndGlyphs" fill="#333" stroke="#333">120</text>
<text x="26.4" y="294.33" font-size="6.4" text-anchor="end" textLength="4.07" lengthAdjust="spacingAndGlyphs" fill="#333" stroke="#333">0</text>
<text x="26.4" y="274.39" font-size="6.4" text-anchor="end" textLength="8.14" lengthAdjust="spacingAndGlyphs" fill="#333" stroke="#333">10</text>
<text x="26.4" y="254.45" font-size="6.4" text-anchor="end" textLength="8.14" lengthAdjust="spacingAndGlyphs" fill="#333" stroke="#333">20</text>
<text x="26.4" y="234.51" font-size="6.4" text-anchor="end" textLength="8.14" lengthAdjust="spacingAndGlyphs" fill="#333" stroke="#333">30</text>
<text x="317.4" y="203.58" font-size="6.2" textLength="3.94" lengthAdjust="spacingAndGlyphs" fill="#333" stroke="#333">1</text>
<text x="317.4" y="322.68" font-size="6.2" textLength="3.94" lengthAdjust="spacingAndGlyphs" fill="#333" stroke="#333">0</text>
<text x="9.7" y="261.8" font-size="12" text-anchor="middle" textLength="74.5" lengthAdjust="spacingAndGlyphs" transform="rotate(-90 9.7 261.8)">Frequency bin</text>
<text x="14.4" y="311.3" font-size="12.5" font-weight="bold" textLength="7.8" lengthAdjust="spacingAndGlyphs">c</text>
<text x="138.6" y="317.8" font-size="11.3" textLength="44" lengthAdjust="spacingAndGlyphs">Time [s]</text>
<text x="471.32" y="315.8" font-size="6.4" text-anchor="middle" textLength="4.07" lengthAdjust="spacingAndGlyphs" fill="#333" stroke="#333">0</text>
<text x="505.79" y="315.8" font-size="6.4" text-anchor="middle" textLength="8.14" lengthAdjust="spacingAndGlyphs" fill="#333" stroke="#333">10</text>
<text x="540.26" y="315.8" font-size="6.4" text-anchor="middle" textLength="8.14" lengthAdjust="spacingAndGlyphs" fill="#333" stroke="#333">20</text>
<text x="574.73" y="315.8" font-size="6.4" text-anchor="middle" textLength="8.14" lengthAdjust="spacingAndGlyphs" fill="#333" stroke="#333">30</text>
<text x="466.8" y="308.6" font-size="6.4" text-anchor="end" textLength="4.07" lengthAdjust="spacingAndGlyphs" fill="#333" stroke="#333">0</text>
<text x="466.8" y="291.35" font-size="6.4" text-anchor="end" textLength="4.07" lengthAdjust="spacingAndGlyphs" fill="#333" stroke="#333">5</text>
<text x="466.8" y="274.1" font-size="6.4" text-anchor="end" textLength="8.14" lengthAdjust="spacingAndGlyphs" fill="#333" stroke="#333">10</text>
<text x="466.8" y="256.85" font-size="6.4" text-anchor="end" textLength="8.14" lengthAdjust="spacingAndGlyphs" fill="#333" stroke="#333">15</text>
<text x="466.8" y="239.6" font-size="6.4" text-anchor="end" textLength="8.14" lengthAdjust="spacingAndGlyphs" fill="#333" stroke="#333">20</text>
<text x="466.8" y="222.35" font-size="6.4" text-anchor="end" textLength="8.14" lengthAdjust="spacingAndGlyphs" fill="#333" stroke="#333">25</text>
<text x="466.8" y="205.1" font-size="6.4" text-anchor="end" textLength="8.14" lengthAdjust="spacingAndGlyphs" fill="#333" stroke="#333">30</text>
<text x="595.4" y="199.9" font-size="6.5" textLength="4.13" lengthAdjust="spacingAndGlyphs" fill="#333" stroke="#333">1</text>
<text x="595.4" y="255.25" font-size="6.5" textLength="4.13" lengthAdjust="spacingAndGlyphs" fill="#333" stroke="#333">0</text>
<text x="595.4" y="310.6" font-size="6.5" textLength="9.58" lengthAdjust="spacingAndGlyphs" fill="#333" stroke="#333">−1</text>
<text x="454.4" y="252.8" font-size="10.9" text-anchor="middle" textLength="70.2" lengthAdjust="spacingAndGlyphs" transform="rotate(-90 454.4 252.8)">Frequency bin</text>
<text x="447.3" y="311.3" font-size="12.5" font-weight="bold" textLength="8.9" lengthAdjust="spacingAndGlyphs">d</text>
<text x="504.8" y="325.6" font-size="11" textLength="39.2" lengthAdjust="spacingAndGlyphs">Time [s]</text>
<text x="32.58" y="467.4" font-size="6.4" text-anchor="middle" textLength="4.07" lengthAdjust="spacingAndGlyphs" fill="#333" stroke="#333">0</text>
<text x="71.98" y="467.4" font-size="6.4" text-anchor="middle" textLength="8.14" lengthAdjust="spacingAndGlyphs" fill="#333" stroke="#333">20</text>
<text x="111.37" y="467.4" font-size="6.4" text-anchor="middle" textLength="8.14" lengthAdjust="spacingAndGlyphs" fill="#333" stroke="#333">40</text>
<text x="150.76" y="467.4" font-size="6.4" text-anchor="middle" textLength="8.14" lengthAdjust="spacingAndGlyphs" fill="#333" stroke="#333">60</text>
<text x="190.15" y="467.4" font-size="6.4" text-anchor="middle" textLength="8.14" lengthAdjust="spacingAndGlyphs" fill="#333" stroke="#333">80</text>
<text x="229.54" y="467.4" font-size="6.4" text-anchor="middle" textLength="12.21" lengthAdjust="spacingAndGlyphs" fill="#333" stroke="#333">100</text>
<text x="268.93" y="467.4" font-size="6.4" text-anchor="middle" textLength="12.21" lengthAdjust="spacingAndGlyphs" fill="#333" stroke="#333">120</text>
<text x="25.2" y="456.95" font-size="6.4" text-anchor="end" textLength="4.07" lengthAdjust="spacingAndGlyphs" fill="#333" stroke="#333">0</text>
<text x="25.2" y="437.55" font-size="6.4" text-anchor="end" textLength="8.14" lengthAdjust="spacingAndGlyphs" fill="#333" stroke="#333">10</text>
<text x="25.2" y="418.14" font-size="6.4" text-anchor="end" textLength="8.14" lengthAdjust="spacingAndGlyphs" fill="#333" stroke="#333">20</text>
<text x="25.2" y="398.73" font-size="6.4" text-anchor="end" textLength="8.14" lengthAdjust="spacingAndGlyphs" fill="#333" stroke="#333">30</text>
<text x="310.8" y="368.12" font-size="6.3" textLength="4.01" lengthAdjust="spacingAndGlyphs" fill="#333" stroke="#333">1</text>
<text x="310.8" y="426.67" font-size="6.3" textLength="4.01" lengthAdjust="spacingAndGlyphs" fill="#333" stroke="#333">0</text>
<text x="310.8" y="485.22" font-size="6.3" textLength="9.29" lengthAdjust="spacingAndGlyphs" fill="#333" stroke="#333">−1</text>
<text x="9.7" y="425" font-size="11.9" text-anchor="middle" textLength="73.5" lengthAdjust="spacingAndGlyphs" transform="rotate(-90 9.7 425)">Frequency bin</text>
<text x="14.4" y="475.2" font-size="12.5" font-weight="bold" textLength="8" lengthAdjust="spacingAndGlyphs">e</text>
<text x="135.7" y="480.4" font-size="11.3" textLength="43.4" lengthAdjust="spacingAndGlyphs">Time [s]</text>
<text x="458.82" y="466.2" font-size="7.4" text-anchor="middle" textLength="4.71" lengthAdjust="spacingAndGlyphs" fill="#333" stroke="#333">0</text>
<text x="511.05" y="466.2" font-size="7.4" text-anchor="middle" textLength="9.41" lengthAdjust="spacingAndGlyphs" fill="#333" stroke="#333">50</text>
<text x="563.28" y="466.2" font-size="7.4" text-anchor="middle" textLength="14.12" lengthAdjust="spacingAndGlyphs" fill="#333" stroke="#333">100</text>
<text x="454.8" y="459.62" font-size="7.4" text-anchor="end" textLength="4.71" lengthAdjust="spacingAndGlyphs" fill="#333" stroke="#333">0</text>
<text x="454.8" y="438.93" font-size="7.4" text-anchor="end" textLength="9.41" lengthAdjust="spacingAndGlyphs" fill="#333" stroke="#333">20</text>
<text x="454.8" y="418.24" font-size="7.4" text-anchor="end" textLength="9.41" lengthAdjust="spacingAndGlyphs" fill="#333" stroke="#333">40</text>
<text x="454.8" y="397.55" font-size="7.4" text-anchor="end" textLength="9.41" lengthAdjust="spacingAndGlyphs" fill="#333" stroke="#333">60</text>
<text x="609.4" y="365.02" font-size="7.3" textLength="4.64" lengthAdjust="spacingAndGlyphs" fill="#333" stroke="#333">1</text>
<text x="609.4" y="426.82" font-size="7.3" textLength="4.64" lengthAdjust="spacingAndGlyphs" fill="#333" stroke="#333">0</text>
<text x="609.4" y="488.62" font-size="7.3" textLength="10.76" lengthAdjust="spacingAndGlyphs" fill="#333" stroke="#333">−1</text>
<text x="440.7" y="424.6" font-size="12.2" text-anchor="middle" textLength="78" lengthAdjust="spacingAndGlyphs" transform="rotate(-90 440.7 424.6)">Frequency bin</text>
<text x="445.4" y="481" font-size="12.5" font-weight="bold" textLength="5.9" lengthAdjust="spacingAndGlyphs">f</text>
<text x="502.7" y="477.8" font-size="11.8" textLength="45.7" lengthAdjust="spacingAndGlyphs">Time [s]</text>
<text x="91.84" y="633.1" font-size="7" text-anchor="middle" textLength="4.45" lengthAdjust="spacingAndGlyphs" fill="#333" stroke="#333">0</text>
<text x="145.78" y="633.1" font-size="7" text-anchor="middle" textLength="8.9" lengthAdjust="spacingAndGlyphs" fill="#333" stroke="#333">50</text>
<text x="199.73" y="633.1" font-size="7" text-anchor="middle" textLength="13.36" lengthAdjust="spacingAndGlyphs" fill="#333" stroke="#333">100</text>
<text x="87.4" y="626.33" font-size="7" text-anchor="end" textLength="4.45" lengthAdjust="spacingAndGlyphs" fill="#333" stroke="#333">0</text>
<text x="87.4" y="604.86" font-size="7" text-anchor="end" textLength="8.9" lengthAdjust="spacingAndGlyphs" fill="#333" stroke="#333">20</text>
<text x="87.4" y="583.4" font-size="7" text-anchor="end" textLength="8.9" lengthAdjust="spacingAndGlyphs" fill="#333" stroke="#333">40</text>
<text x="87.4" y="561.93" font-size="7" text-anchor="end" textLength="8.9" lengthAdjust="spacingAndGlyphs" fill="#333" stroke="#333">60</text>
<text x="247.8" y="528.12" font-size="7.3" textLength="4.64" lengthAdjust="spacingAndGlyphs" fill="#333" stroke="#333">1</text>
<text x="247.8" y="592.37" font-size="7.3" textLength="4.64" lengthAdjust="spacingAndGlyphs" fill="#333" stroke="#333">0</text>
<text x="247.8" y="656.62" font-size="7.3" textLength="10.76" lengthAdjust="spacingAndGlyphs" fill="#333" stroke="#333">−1</text>
<text x="72.8" y="589.8" font-size="12.1" text-anchor="middle" textLength="79.8" lengthAdjust="spacingAndGlyphs" transform="rotate(-90 72.8 589.8)">Frequency bin</text>
<text x="77.6" y="645.8" font-size="12.5" font-weight="bold" textLength="9" lengthAdjust="spacingAndGlyphs">g</text>
<text x="137.4" y="645.3" font-size="11.8" textLength="46.3" lengthAdjust="spacingAndGlyphs">Time [s]</text>
<text x="460.63" y="633.3" font-size="7" text-anchor="middle" textLength="4.45" lengthAdjust="spacingAndGlyphs" fill="#333" stroke="#333">0</text>
<text x="514.03" y="633.3" font-size="7" text-anchor="middle" textLength="8.9" lengthAdjust="spacingAndGlyphs" fill="#333" stroke="#333">50</text>
<text x="567.43" y="633.3" font-size="7" text-anchor="middle" textLength="13.36" lengthAdjust="spacingAndGlyphs" fill="#333" stroke="#333">100</text>
<text x="456.6" y="626.54" font-size="7" text-anchor="end" textLength="4.45" lengthAdjust="spacingAndGlyphs" fill="#333" stroke="#333">0</text>
<text x="456.6" y="605.32" font-size="7" text-anchor="end" textLength="8.9" lengthAdjust="spacingAndGlyphs" fill="#333" stroke="#333">20</text>
<text x="456.6" y="584.1" font-size="7" text-anchor="end" textLength="8.9" lengthAdjust="spacingAndGlyphs" fill="#333" stroke="#333">40</text>
<text x="456.6" y="562.88" font-size="7" text-anchor="end" textLength="8.9" lengthAdjust="spacingAndGlyphs" fill="#333" stroke="#333">60</text>
<text x="614.8" y="529.92" font-size="7.3" textLength="4.64" lengthAdjust="spacingAndGlyphs" fill="#333" stroke="#333">1</text>
<text x="614.8" y="656.42" font-size="7.3" textLength="4.64" lengthAdjust="spacingAndGlyphs" fill="#333" stroke="#333">0</text>
<text x="441.9" y="590.4" font-size="12.5" text-anchor="middle" textLength="78.6" lengthAdjust="spacingAndGlyphs" transform="rotate(-90 441.9 590.4)">Frequency bin</text>
<text x="446.3" y="645.8" font-size="12.5" font-weight="bold" textLength="8.2" lengthAdjust="spacingAndGlyphs">h</text>
<text x="505.3" y="645.3" font-size="11.8" textLength="46.1" lengthAdjust="spacingAndGlyphs">Time [s]</text>
</svg>
</body></html>
